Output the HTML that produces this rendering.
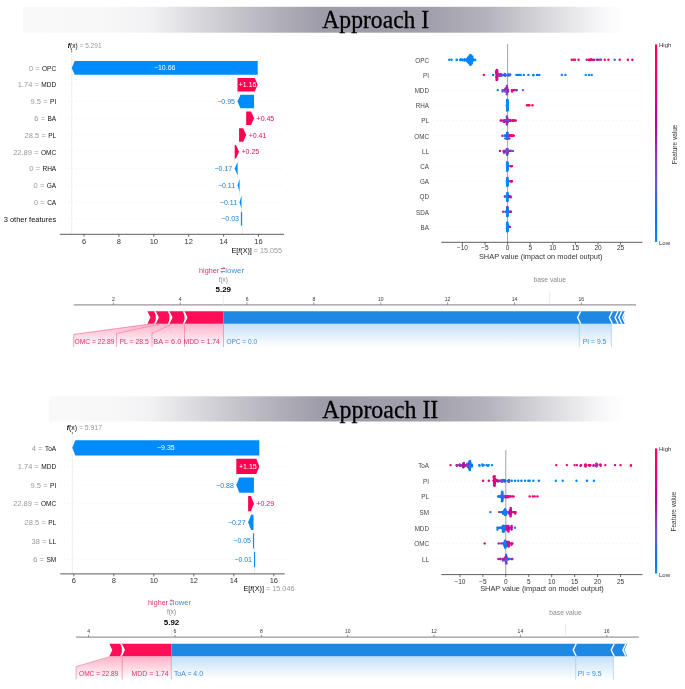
<!DOCTYPE html>
<html><head><meta charset="utf-8"><style>
html,body{margin:0;padding:0;background:#fff;width:685px;height:689px;overflow:hidden}
svg{display:block;filter:blur(0.35px)}
</style></head><body>
<svg width="685" height="689" viewBox="0 0 685 689">
<rect width="685" height="689" fill="#fff"/>
<defs><linearGradient id="g6" x1="23" x2="685" y1="0" y2="0" gradientUnits="userSpaceOnUse"><stop offset="0.0000" stop-color="#f9f9f9"/><stop offset="0.1163" stop-color="#f8f8f9"/><stop offset="0.1918" stop-color="#f2f2f4"/><stop offset="0.3202" stop-color="#c6c5cc"/><stop offset="0.4486" stop-color="#9d9ca8"/><stop offset="0.6148" stop-color="#a09fab"/><stop offset="0.7069" stop-color="#b6b5be"/><stop offset="0.8006" stop-color="#dcdce0"/><stop offset="0.8701" stop-color="#f6f6f8"/><stop offset="0.9094" stop-color="#ffffff"/><stop offset="1.0000" stop-color="#ffffff"/></linearGradient></defs>
<rect x="23" y="6.8" width="662" height="25.900000000000002" fill="url(#g6)"/>
<text x="322.30" y="28.10" font-family="Liberation Serif" font-size="24.5" fill="#000" text-anchor="start" font-weight="normal" textLength="106.9" lengthAdjust="spacingAndGlyphs" stroke="#000" stroke-width="0.3">Approach I</text>
<defs><linearGradient id="g396" x1="49" x2="685" y1="0" y2="0" gradientUnits="userSpaceOnUse"><stop offset="0.0000" stop-color="#f9f9f9"/><stop offset="0.0959" stop-color="#f8f8f9"/><stop offset="0.1588" stop-color="#f2f2f4"/><stop offset="0.2925" stop-color="#c6c5cc"/><stop offset="0.4261" stop-color="#9d9ca8"/><stop offset="0.5991" stop-color="#a09fab"/><stop offset="0.6950" stop-color="#b6b5be"/><stop offset="0.7925" stop-color="#dcdce0"/><stop offset="0.8648" stop-color="#f6f6f8"/><stop offset="0.9057" stop-color="#ffffff"/><stop offset="1.0000" stop-color="#ffffff"/></linearGradient></defs>
<rect x="49" y="396.3" width="636" height="25.19999999999999" fill="url(#g396)"/>
<text x="322.30" y="417.60" font-family="Liberation Serif" font-size="24.5" fill="#000" text-anchor="start" font-weight="normal" textLength="116.0" lengthAdjust="spacingAndGlyphs" stroke="#000" stroke-width="0.3">Approach II</text>
<line x1="60.00" y1="67.90" x2="284.00" y2="67.90" stroke="#e8e8e8" stroke-width="0.6" stroke-dasharray="1,3"/>
<line x1="60.00" y1="84.68" x2="284.00" y2="84.68" stroke="#e8e8e8" stroke-width="0.6" stroke-dasharray="1,3"/>
<line x1="60.00" y1="101.46" x2="284.00" y2="101.46" stroke="#e8e8e8" stroke-width="0.6" stroke-dasharray="1,3"/>
<line x1="60.00" y1="118.24" x2="284.00" y2="118.24" stroke="#e8e8e8" stroke-width="0.6" stroke-dasharray="1,3"/>
<line x1="60.00" y1="135.02" x2="284.00" y2="135.02" stroke="#e8e8e8" stroke-width="0.6" stroke-dasharray="1,3"/>
<line x1="60.00" y1="151.80" x2="284.00" y2="151.80" stroke="#e8e8e8" stroke-width="0.6" stroke-dasharray="1,3"/>
<line x1="60.00" y1="168.58" x2="284.00" y2="168.58" stroke="#e8e8e8" stroke-width="0.6" stroke-dasharray="1,3"/>
<line x1="60.00" y1="185.36" x2="284.00" y2="185.36" stroke="#e8e8e8" stroke-width="0.6" stroke-dasharray="1,3"/>
<line x1="60.00" y1="202.14" x2="284.00" y2="202.14" stroke="#e8e8e8" stroke-width="0.6" stroke-dasharray="1,3"/>
<line x1="60.00" y1="218.92" x2="284.00" y2="218.92" stroke="#e8e8e8" stroke-width="0.6" stroke-dasharray="1,3"/>
<line x1="242.01" y1="212.21" x2="242.01" y2="234.30" stroke="#d8d8d8" stroke-width="0.6" />
<line x1="71.70" y1="49.60" x2="71.70" y2="234.30" stroke="#e4e4e4" stroke-width="0.6" />
<polygon points="240.89,212.12 242.09,212.12 242.09,225.72 240.89,225.72" fill="rgb(0,139,251)" />
<line x1="241.49" y1="212.12" x2="241.49" y2="208.94" stroke="#d0d0d0" stroke-width="0.5" />
<text x="238.99" y="221.44" font-family="Liberation Sans" font-size="7" fill="rgb(25,128,210)" text-anchor="end" font-weight="normal" >−0.03</text>
<polygon points="241.49,195.34 241.49,195.34 239.57,202.14 241.49,208.94 241.49,208.94" fill="rgb(0,139,251)" />
<line x1="239.57" y1="195.34" x2="239.57" y2="192.16" stroke="#d0d0d0" stroke-width="0.5" />
<text x="237.07" y="204.66" font-family="Liberation Sans" font-size="7" fill="rgb(25,128,210)" text-anchor="end" font-weight="normal" >−0.11</text>
<polygon points="239.57,178.56 239.57,178.56 237.65,185.36 239.57,192.16 239.57,192.16" fill="rgb(0,139,251)" />
<line x1="237.65" y1="178.56" x2="237.65" y2="175.38" stroke="#d0d0d0" stroke-width="0.5" />
<text x="235.15" y="187.88" font-family="Liberation Sans" font-size="7" fill="rgb(25,128,210)" text-anchor="end" font-weight="normal" >−0.11</text>
<polygon points="237.65,161.78 237.65,161.78 234.68,168.58 237.65,175.38 237.65,175.38" fill="rgb(0,139,251)" />
<line x1="234.68" y1="161.78" x2="234.68" y2="158.60" stroke="#d0d0d0" stroke-width="0.5" />
<text x="232.18" y="171.10" font-family="Liberation Sans" font-size="7" fill="rgb(25,128,210)" text-anchor="end" font-weight="normal" >−0.17</text>
<polygon points="234.68,145.00 236.04,145.00 239.04,151.80 236.04,158.60 234.68,158.60" fill="rgb(255,0,81)" />
<line x1="239.04" y1="145.00" x2="239.04" y2="141.82" stroke="#d0d0d0" stroke-width="0.5" />
<text x="241.54" y="154.32" font-family="Liberation Sans" font-size="7" fill="rgb(215,20,90)" text-anchor="start" font-weight="normal" >+0.25</text>
<polygon points="239.04,128.22 243.20,128.22 246.20,135.02 243.20,141.82 239.04,141.82" fill="rgb(255,0,81)" />
<line x1="246.20" y1="128.22" x2="246.20" y2="125.04" stroke="#d0d0d0" stroke-width="0.5" />
<text x="248.70" y="137.54" font-family="Liberation Sans" font-size="7" fill="rgb(215,20,90)" text-anchor="start" font-weight="normal" >+0.41</text>
<polygon points="246.20,111.44 251.05,111.44 254.05,118.24 251.05,125.04 246.20,125.04" fill="rgb(255,0,81)" />
<line x1="254.05" y1="111.44" x2="254.05" y2="108.26" stroke="#d0d0d0" stroke-width="0.5" />
<text x="256.55" y="120.76" font-family="Liberation Sans" font-size="7" fill="rgb(215,20,90)" text-anchor="start" font-weight="normal" >+0.45</text>
<polygon points="254.05,94.66 240.47,94.66 237.47,101.46 240.47,108.26 254.05,108.26" fill="rgb(0,139,251)" />
<line x1="237.47" y1="94.66" x2="237.47" y2="91.48" stroke="#d0d0d0" stroke-width="0.5" />
<text x="234.97" y="103.98" font-family="Liberation Sans" font-size="7" fill="rgb(25,128,210)" text-anchor="end" font-weight="normal" >−0.95</text>
<polygon points="237.47,77.88 254.71,77.88 257.71,84.68 254.71,91.48 237.47,91.48" fill="rgb(255,0,81)" />
<line x1="257.71" y1="77.88" x2="257.71" y2="74.70" stroke="#d0d0d0" stroke-width="0.5" />
<text x="247.59" y="87.20" font-family="Liberation Sans" font-size="7" fill="#fff" text-anchor="middle" font-weight="normal" >+1.16</text>
<polygon points="257.71,61.10 74.70,61.10 71.70,67.90 74.70,74.70 257.71,74.70" fill="rgb(0,139,251)" />
<text x="164.71" y="70.42" font-family="Liberation Sans" font-size="7" fill="#fff" text-anchor="middle" font-weight="normal" >−10.66</text>
<text x="42.06" y="70.60" font-family="Liberation Sans" font-size="7.5" fill="#111" text-anchor="start" font-weight="normal" textLength="14.1" lengthAdjust="spacingAndGlyphs" >OPC</text>
<text x="39.66" y="70.60" font-family="Liberation Sans" font-size="7.5" fill="#999" text-anchor="end" font-weight="normal" >=</text>
<text x="33.06" y="70.60" font-family="Liberation Sans" font-size="7.5" fill="#999" text-anchor="end" font-weight="normal" >0</text>
<text x="41.34" y="87.38" font-family="Liberation Sans" font-size="7.5" fill="#111" text-anchor="start" font-weight="normal" textLength="14.9" lengthAdjust="spacingAndGlyphs" >MDD</text>
<text x="38.94" y="87.38" font-family="Liberation Sans" font-size="7.5" fill="#999" text-anchor="end" font-weight="normal" >=</text>
<text x="32.34" y="87.38" font-family="Liberation Sans" font-size="7.5" fill="#999" text-anchor="end" font-weight="normal" >1.74</text>
<text x="50.03" y="104.16" font-family="Liberation Sans" font-size="7.5" fill="#111" text-anchor="start" font-weight="normal" textLength="6.2" lengthAdjust="spacingAndGlyphs" >PI</text>
<text x="47.63" y="104.16" font-family="Liberation Sans" font-size="7.5" fill="#999" text-anchor="end" font-weight="normal" >=</text>
<text x="41.03" y="104.16" font-family="Liberation Sans" font-size="7.5" fill="#999" text-anchor="end" font-weight="normal" >9.5</text>
<text x="47.50" y="120.94" font-family="Liberation Sans" font-size="7.5" fill="#111" text-anchor="start" font-weight="normal" textLength="8.7" lengthAdjust="spacingAndGlyphs" >BA</text>
<text x="45.10" y="120.94" font-family="Liberation Sans" font-size="7.5" fill="#999" text-anchor="end" font-weight="normal" >=</text>
<text x="38.50" y="120.94" font-family="Liberation Sans" font-size="7.5" fill="#999" text-anchor="end" font-weight="normal" >6</text>
<text x="48.22" y="137.72" font-family="Liberation Sans" font-size="7.5" fill="#111" text-anchor="start" font-weight="normal" textLength="8.0" lengthAdjust="spacingAndGlyphs" >PL</text>
<text x="45.82" y="137.72" font-family="Liberation Sans" font-size="7.5" fill="#999" text-anchor="end" font-weight="normal" >=</text>
<text x="39.22" y="137.72" font-family="Liberation Sans" font-size="7.5" fill="#999" text-anchor="end" font-weight="normal" >28.5</text>
<text x="40.98" y="154.50" font-family="Liberation Sans" font-size="7.5" fill="#111" text-anchor="start" font-weight="normal" textLength="15.2" lengthAdjust="spacingAndGlyphs" >OMC</text>
<text x="38.58" y="154.50" font-family="Liberation Sans" font-size="7.5" fill="#999" text-anchor="end" font-weight="normal" >=</text>
<text x="31.98" y="154.50" font-family="Liberation Sans" font-size="7.5" fill="#999" text-anchor="end" font-weight="normal" >22.89</text>
<text x="42.42" y="171.28" font-family="Liberation Sans" font-size="7.5" fill="#111" text-anchor="start" font-weight="normal" textLength="13.8" lengthAdjust="spacingAndGlyphs" >RHA</text>
<text x="40.02" y="171.28" font-family="Liberation Sans" font-size="7.5" fill="#999" text-anchor="end" font-weight="normal" >=</text>
<text x="33.42" y="171.28" font-family="Liberation Sans" font-size="7.5" fill="#999" text-anchor="end" font-weight="normal" >0</text>
<text x="46.77" y="188.06" font-family="Liberation Sans" font-size="7.5" fill="#111" text-anchor="start" font-weight="normal" textLength="9.4" lengthAdjust="spacingAndGlyphs" >GA</text>
<text x="44.37" y="188.06" font-family="Liberation Sans" font-size="7.5" fill="#999" text-anchor="end" font-weight="normal" >=</text>
<text x="37.77" y="188.06" font-family="Liberation Sans" font-size="7.5" fill="#999" text-anchor="end" font-weight="normal" >0</text>
<text x="47.14" y="204.84" font-family="Liberation Sans" font-size="7.5" fill="#111" text-anchor="start" font-weight="normal" textLength="9.1" lengthAdjust="spacingAndGlyphs" >CA</text>
<text x="44.74" y="204.84" font-family="Liberation Sans" font-size="7.5" fill="#999" text-anchor="end" font-weight="normal" >=</text>
<text x="38.14" y="204.84" font-family="Liberation Sans" font-size="7.5" fill="#999" text-anchor="end" font-weight="normal" >0</text>
<text x="3.70" y="221.62" font-family="Liberation Sans" font-size="7.5" fill="#111" text-anchor="start" font-weight="normal" textLength="52.5" lengthAdjust="spacingAndGlyphs" >3 other features</text>
<line x1="59.80" y1="234.30" x2="284.00" y2="234.30" stroke="#333" stroke-width="0.8" />
<line x1="84.00" y1="234.30" x2="84.00" y2="236.80" stroke="#333" stroke-width="0.7" />
<text x="84.00" y="244.00" font-family="Liberation Sans" font-size="7.5" fill="#333" text-anchor="middle" font-weight="normal" >6</text>
<line x1="118.90" y1="234.30" x2="118.90" y2="236.80" stroke="#333" stroke-width="0.7" />
<text x="118.90" y="244.00" font-family="Liberation Sans" font-size="7.5" fill="#333" text-anchor="middle" font-weight="normal" >8</text>
<line x1="153.80" y1="234.30" x2="153.80" y2="236.80" stroke="#333" stroke-width="0.7" />
<text x="153.80" y="244.00" font-family="Liberation Sans" font-size="7.5" fill="#333" text-anchor="middle" font-weight="normal" >10</text>
<line x1="188.70" y1="234.30" x2="188.70" y2="236.80" stroke="#333" stroke-width="0.7" />
<text x="188.70" y="244.00" font-family="Liberation Sans" font-size="7.5" fill="#333" text-anchor="middle" font-weight="normal" >12</text>
<line x1="223.60" y1="234.30" x2="223.60" y2="236.80" stroke="#333" stroke-width="0.7" />
<text x="223.60" y="244.00" font-family="Liberation Sans" font-size="7.5" fill="#333" text-anchor="middle" font-weight="normal" >14</text>
<line x1="258.50" y1="234.30" x2="258.50" y2="236.80" stroke="#333" stroke-width="0.7" />
<text x="258.50" y="244.00" font-family="Liberation Sans" font-size="7.5" fill="#333" text-anchor="middle" font-weight="normal" >16</text>
<text x="67.80" y="48.12" font-family="Liberation Sans" font-size="7" textLength="33.8" lengthAdjust="spacingAndGlyphs"><tspan font-style="italic" font-weight="bold" fill="#000">f</tspan><tspan fill="#000">(x)</tspan><tspan fill="#999"> = 5.291</tspan></text>
<line x1="71.70" y1="50.40" x2="71.70" y2="52.40" stroke="#333" stroke-width="0.6" />
<text x="231.50" y="252.52" font-family="Liberation Sans" font-size="7" textLength="50.5" lengthAdjust="spacingAndGlyphs"><tspan fill="#000">E[<tspan font-style="italic">f</tspan>(X)]</tspan><tspan fill="#999"> = 15.055</tspan></text>
<line x1="60.00" y1="447.80" x2="285.00" y2="447.80" stroke="#e8e8e8" stroke-width="0.6" stroke-dasharray="1,3"/>
<line x1="60.00" y1="466.42" x2="285.00" y2="466.42" stroke="#e8e8e8" stroke-width="0.6" stroke-dasharray="1,3"/>
<line x1="60.00" y1="485.04" x2="285.00" y2="485.04" stroke="#e8e8e8" stroke-width="0.6" stroke-dasharray="1,3"/>
<line x1="60.00" y1="503.66" x2="285.00" y2="503.66" stroke="#e8e8e8" stroke-width="0.6" stroke-dasharray="1,3"/>
<line x1="60.00" y1="522.28" x2="285.00" y2="522.28" stroke="#e8e8e8" stroke-width="0.6" stroke-dasharray="1,3"/>
<line x1="60.00" y1="540.90" x2="285.00" y2="540.90" stroke="#e8e8e8" stroke-width="0.6" stroke-dasharray="1,3"/>
<line x1="60.00" y1="559.52" x2="285.00" y2="559.52" stroke="#e8e8e8" stroke-width="0.6" stroke-dasharray="1,3"/>
<line x1="254.72" y1="552.07" x2="254.72" y2="573.90" stroke="#d8d8d8" stroke-width="0.6" />
<line x1="72.32" y1="431.20" x2="72.32" y2="573.90" stroke="#e4e4e4" stroke-width="0.6" />
<polygon points="253.92,551.92 255.12,551.92 255.12,567.12 253.92,567.12" fill="rgb(0,139,251)" />
<line x1="254.52" y1="551.92" x2="254.52" y2="548.50" stroke="#d0d0d0" stroke-width="0.5" />
<text x="252.02" y="562.04" font-family="Liberation Sans" font-size="7" fill="rgb(25,128,210)" text-anchor="end" font-weight="normal" >−0.01</text>
<polygon points="252.92,533.30 254.12,533.30 254.12,548.50 252.92,548.50" fill="rgb(0,139,251)" />
<line x1="253.52" y1="533.30" x2="253.52" y2="529.88" stroke="#d0d0d0" stroke-width="0.5" />
<text x="251.02" y="543.42" font-family="Liberation Sans" font-size="7" fill="rgb(25,128,210)" text-anchor="end" font-weight="normal" >−0.05</text>
<polygon points="253.52,514.68 251.12,514.68 248.12,522.28 251.12,529.88 253.52,529.88" fill="rgb(0,139,251)" />
<line x1="248.12" y1="514.68" x2="248.12" y2="511.26" stroke="#d0d0d0" stroke-width="0.5" />
<text x="245.62" y="524.80" font-family="Liberation Sans" font-size="7" fill="rgb(25,128,210)" text-anchor="end" font-weight="normal" >−0.27</text>
<polygon points="248.12,496.06 250.92,496.06 253.92,503.66 250.92,511.26 248.12,511.26" fill="rgb(255,0,81)" />
<line x1="253.92" y1="496.06" x2="253.92" y2="492.64" stroke="#d0d0d0" stroke-width="0.5" />
<text x="256.42" y="506.18" font-family="Liberation Sans" font-size="7" fill="rgb(215,20,90)" text-anchor="start" font-weight="normal" >+0.29</text>
<polygon points="253.92,477.44 239.32,477.44 236.32,485.04 239.32,492.64 253.92,492.64" fill="rgb(0,139,251)" />
<line x1="236.32" y1="477.44" x2="236.32" y2="474.02" stroke="#d0d0d0" stroke-width="0.5" />
<text x="233.82" y="487.56" font-family="Liberation Sans" font-size="7" fill="rgb(25,128,210)" text-anchor="end" font-weight="normal" >−0.88</text>
<polygon points="236.32,458.82 256.32,458.82 259.32,466.42 256.32,474.02 236.32,474.02" fill="rgb(255,0,81)" />
<line x1="259.32" y1="458.82" x2="259.32" y2="455.40" stroke="#d0d0d0" stroke-width="0.5" />
<text x="247.82" y="468.94" font-family="Liberation Sans" font-size="7" fill="#fff" text-anchor="middle" font-weight="normal" >+1.15</text>
<polygon points="259.32,440.20 75.32,440.20 72.32,447.80 75.32,455.40 259.32,455.40" fill="rgb(0,139,251)" />
<text x="165.82" y="450.32" font-family="Liberation Sans" font-size="7" fill="#fff" text-anchor="middle" font-weight="normal" >−9.35</text>
<text x="44.96" y="450.50" font-family="Liberation Sans" font-size="7.5" fill="#111" text-anchor="start" font-weight="normal" textLength="11.2" lengthAdjust="spacingAndGlyphs" >ToA</text>
<text x="42.56" y="450.50" font-family="Liberation Sans" font-size="7.5" fill="#999" text-anchor="end" font-weight="normal" >=</text>
<text x="35.96" y="450.50" font-family="Liberation Sans" font-size="7.5" fill="#999" text-anchor="end" font-weight="normal" >4</text>
<text x="41.34" y="469.12" font-family="Liberation Sans" font-size="7.5" fill="#111" text-anchor="start" font-weight="normal" textLength="14.9" lengthAdjust="spacingAndGlyphs" >MDD</text>
<text x="38.94" y="469.12" font-family="Liberation Sans" font-size="7.5" fill="#999" text-anchor="end" font-weight="normal" >=</text>
<text x="32.34" y="469.12" font-family="Liberation Sans" font-size="7.5" fill="#999" text-anchor="end" font-weight="normal" >1.74</text>
<text x="50.03" y="487.74" font-family="Liberation Sans" font-size="7.5" fill="#111" text-anchor="start" font-weight="normal" textLength="6.2" lengthAdjust="spacingAndGlyphs" >PI</text>
<text x="47.63" y="487.74" font-family="Liberation Sans" font-size="7.5" fill="#999" text-anchor="end" font-weight="normal" >=</text>
<text x="41.03" y="487.74" font-family="Liberation Sans" font-size="7.5" fill="#999" text-anchor="end" font-weight="normal" >9.5</text>
<text x="40.98" y="506.36" font-family="Liberation Sans" font-size="7.5" fill="#111" text-anchor="start" font-weight="normal" textLength="15.2" lengthAdjust="spacingAndGlyphs" >OMC</text>
<text x="38.58" y="506.36" font-family="Liberation Sans" font-size="7.5" fill="#999" text-anchor="end" font-weight="normal" >=</text>
<text x="31.98" y="506.36" font-family="Liberation Sans" font-size="7.5" fill="#999" text-anchor="end" font-weight="normal" >22.89</text>
<text x="48.22" y="524.98" font-family="Liberation Sans" font-size="7.5" fill="#111" text-anchor="start" font-weight="normal" textLength="8.0" lengthAdjust="spacingAndGlyphs" >PL</text>
<text x="45.82" y="524.98" font-family="Liberation Sans" font-size="7.5" fill="#999" text-anchor="end" font-weight="normal" >=</text>
<text x="39.22" y="524.98" font-family="Liberation Sans" font-size="7.5" fill="#999" text-anchor="end" font-weight="normal" >28.5</text>
<text x="48.94" y="543.60" font-family="Liberation Sans" font-size="7.5" fill="#111" text-anchor="start" font-weight="normal" textLength="7.3" lengthAdjust="spacingAndGlyphs" >LL</text>
<text x="46.54" y="543.60" font-family="Liberation Sans" font-size="7.5" fill="#999" text-anchor="end" font-weight="normal" >=</text>
<text x="39.94" y="543.60" font-family="Liberation Sans" font-size="7.5" fill="#999" text-anchor="end" font-weight="normal" >38</text>
<text x="46.41" y="562.22" font-family="Liberation Sans" font-size="7.5" fill="#111" text-anchor="start" font-weight="normal" textLength="9.8" lengthAdjust="spacingAndGlyphs" >SM</text>
<text x="44.01" y="562.22" font-family="Liberation Sans" font-size="7.5" fill="#999" text-anchor="end" font-weight="normal" >=</text>
<text x="37.41" y="562.22" font-family="Liberation Sans" font-size="7.5" fill="#999" text-anchor="end" font-weight="normal" >6</text>
<line x1="60.20" y1="573.90" x2="284.70" y2="573.90" stroke="#333" stroke-width="0.8" />
<line x1="73.80" y1="573.90" x2="73.80" y2="576.40" stroke="#333" stroke-width="0.7" />
<text x="73.80" y="582.70" font-family="Liberation Sans" font-size="7.5" fill="#333" text-anchor="middle" font-weight="normal" >6</text>
<line x1="113.80" y1="573.90" x2="113.80" y2="576.40" stroke="#333" stroke-width="0.7" />
<text x="113.80" y="582.70" font-family="Liberation Sans" font-size="7.5" fill="#333" text-anchor="middle" font-weight="normal" >8</text>
<line x1="153.80" y1="573.90" x2="153.80" y2="576.40" stroke="#333" stroke-width="0.7" />
<text x="153.80" y="582.70" font-family="Liberation Sans" font-size="7.5" fill="#333" text-anchor="middle" font-weight="normal" >10</text>
<line x1="193.80" y1="573.90" x2="193.80" y2="576.40" stroke="#333" stroke-width="0.7" />
<text x="193.80" y="582.70" font-family="Liberation Sans" font-size="7.5" fill="#333" text-anchor="middle" font-weight="normal" >12</text>
<line x1="233.80" y1="573.90" x2="233.80" y2="576.40" stroke="#333" stroke-width="0.7" />
<text x="233.80" y="582.70" font-family="Liberation Sans" font-size="7.5" fill="#333" text-anchor="middle" font-weight="normal" >14</text>
<line x1="273.80" y1="573.90" x2="273.80" y2="576.40" stroke="#333" stroke-width="0.7" />
<text x="273.80" y="582.70" font-family="Liberation Sans" font-size="7.5" fill="#333" text-anchor="middle" font-weight="normal" >16</text>
<text x="66.70" y="429.72" font-family="Liberation Sans" font-size="7" textLength="35.3" lengthAdjust="spacingAndGlyphs"><tspan font-style="italic" font-weight="bold" fill="#000">f</tspan><tspan fill="#000">(x)</tspan><tspan fill="#999"> = 5.917</tspan></text>
<line x1="72.32" y1="432.00" x2="72.32" y2="434.00" stroke="#333" stroke-width="0.6" />
<text x="243.40" y="590.52" font-family="Liberation Sans" font-size="7" textLength="51.1" lengthAdjust="spacingAndGlyphs"><tspan fill="#000">E[<tspan font-style="italic">f</tspan>(X)]</tspan><tspan fill="#999"> = 15.046</tspan></text>
<line x1="432.00" y1="59.70" x2="640.00" y2="59.70" stroke="#e6e6e6" stroke-width="0.6" stroke-dasharray="1,3"/>
<line x1="432.00" y1="74.90" x2="640.00" y2="74.90" stroke="#e6e6e6" stroke-width="0.6" stroke-dasharray="1,3"/>
<line x1="432.00" y1="90.10" x2="640.00" y2="90.10" stroke="#e6e6e6" stroke-width="0.6" stroke-dasharray="1,3"/>
<line x1="432.00" y1="105.30" x2="640.00" y2="105.30" stroke="#e6e6e6" stroke-width="0.6" stroke-dasharray="1,3"/>
<line x1="432.00" y1="120.50" x2="640.00" y2="120.50" stroke="#e6e6e6" stroke-width="0.6" stroke-dasharray="1,3"/>
<line x1="432.00" y1="135.70" x2="640.00" y2="135.70" stroke="#e6e6e6" stroke-width="0.6" stroke-dasharray="1,3"/>
<line x1="432.00" y1="150.90" x2="640.00" y2="150.90" stroke="#e6e6e6" stroke-width="0.6" stroke-dasharray="1,3"/>
<line x1="432.00" y1="166.10" x2="640.00" y2="166.10" stroke="#e6e6e6" stroke-width="0.6" stroke-dasharray="1,3"/>
<line x1="432.00" y1="181.30" x2="640.00" y2="181.30" stroke="#e6e6e6" stroke-width="0.6" stroke-dasharray="1,3"/>
<line x1="432.00" y1="196.50" x2="640.00" y2="196.50" stroke="#e6e6e6" stroke-width="0.6" stroke-dasharray="1,3"/>
<line x1="432.00" y1="211.70" x2="640.00" y2="211.70" stroke="#e6e6e6" stroke-width="0.6" stroke-dasharray="1,3"/>
<line x1="432.00" y1="226.90" x2="640.00" y2="226.90" stroke="#e6e6e6" stroke-width="0.6" stroke-dasharray="1,3"/>
<line x1="507.60" y1="44.20" x2="507.60" y2="242.30" stroke="#999" stroke-width="0.9" />
<text x="415.35" y="62.62" font-family="Liberation Sans" font-size="7.0" fill="#444" text-anchor="start" font-weight="normal" textLength="13.7" lengthAdjust="spacingAndGlyphs" >OPC</text>
<circle cx="470.05" cy="60.96" r="1.2" fill="rgb(0,132,248)"/>
<circle cx="470.37" cy="64.75" r="1.2" fill="rgb(0,133,249)"/>
<circle cx="589.12" cy="60.12" r="1.2" fill="rgb(207,0,147)"/>
<circle cx="467.78" cy="58.44" r="1.2" fill="rgb(0,130,248)"/>
<circle cx="471.07" cy="63.91" r="1.2" fill="rgb(0,133,249)"/>
<circle cx="464.55" cy="59.28" r="1.2" fill="rgb(0,134,250)"/>
<circle cx="449.29" cy="59.70" r="1.2" fill="rgb(0,137,250)"/>
<circle cx="468.47" cy="60.54" r="1.2" fill="rgb(0,132,248)"/>
<circle cx="469.57" cy="56.33" r="1.2" fill="rgb(0,132,248)"/>
<circle cx="586.70" cy="59.70" r="1.2" fill="rgb(160,31,171)"/>
<circle cx="574.95" cy="59.70" r="1.2" fill="rgb(252,0,97)"/>
<circle cx="473.24" cy="59.28" r="1.2" fill="rgb(0,127,247)"/>
<circle cx="588.72" cy="59.70" r="1.2" fill="rgb(236,0,120)"/>
<circle cx="474.91" cy="60.12" r="1.2" fill="rgb(0,139,251)"/>
<circle cx="590.44" cy="60.12" r="1.2" fill="rgb(248,0,103)"/>
<circle cx="467.38" cy="60.96" r="1.2" fill="rgb(0,130,248)"/>
<circle cx="592.24" cy="59.70" r="1.2" fill="rgb(223,0,134)"/>
<circle cx="470.35" cy="60.96" r="1.2" fill="rgb(0,133,249)"/>
<circle cx="460.74" cy="59.28" r="1.2" fill="rgb(0,132,248)"/>
<circle cx="470.68" cy="56.75" r="1.2" fill="rgb(0,133,249)"/>
<circle cx="470.25" cy="62.65" r="1.2" fill="rgb(0,133,249)"/>
<circle cx="471.90" cy="63.07" r="1.2" fill="rgb(0,139,251)"/>
<circle cx="571.78" cy="59.70" r="1.2" fill="rgb(255,0,88)"/>
<circle cx="596.64" cy="59.70" r="1.2" fill="rgb(91,93,221)"/>
<circle cx="472.14" cy="60.12" r="1.2" fill="rgb(0,133,249)"/>
<circle cx="466.85" cy="60.12" r="1.2" fill="rgb(0,139,251)"/>
<circle cx="462.33" cy="60.12" r="1.2" fill="rgb(0,129,247)"/>
<circle cx="469.62" cy="60.12" r="1.2" fill="rgb(0,136,250)"/>
<circle cx="456.56" cy="60.12" r="1.2" fill="rgb(0,136,250)"/>
<circle cx="456.87" cy="59.70" r="1.2" fill="rgb(0,137,250)"/>
<circle cx="468.88" cy="56.75" r="1.2" fill="rgb(0,136,250)"/>
<circle cx="594.04" cy="59.70" r="1.2" fill="rgb(205,0,149)"/>
<circle cx="608.40" cy="59.70" r="1.2" fill="rgb(252,0,97)"/>
<circle cx="466.67" cy="59.70" r="1.2" fill="rgb(0,136,250)"/>
<circle cx="468.09" cy="58.02" r="1.2" fill="rgb(0,132,248)"/>
<circle cx="470.92" cy="61.38" r="1.2" fill="rgb(0,132,248)"/>
<circle cx="471.85" cy="58.44" r="1.2" fill="rgb(0,139,251)"/>
<circle cx="604.78" cy="59.70" r="1.2" fill="rgb(246,0,108)"/>
<circle cx="600.85" cy="59.70" r="1.2" fill="rgb(133,66,197)"/>
<circle cx="451.55" cy="59.70" r="1.2" fill="rgb(0,132,248)"/>
<circle cx="469.93" cy="62.23" r="1.2" fill="rgb(0,130,248)"/>
<circle cx="460.70" cy="59.70" r="1.2" fill="rgb(0,133,249)"/>
<circle cx="469.03" cy="59.70" r="1.2" fill="rgb(0,132,248)"/>
<circle cx="470.53" cy="64.33" r="1.2" fill="rgb(0,139,251)"/>
<circle cx="464.80" cy="59.70" r="1.2" fill="rgb(0,139,251)"/>
<circle cx="470.64" cy="58.86" r="1.2" fill="rgb(0,134,250)"/>
<circle cx="468.58" cy="57.60" r="1.2" fill="rgb(0,134,250)"/>
<circle cx="471.64" cy="59.28" r="1.2" fill="rgb(0,132,248)"/>
<circle cx="470.40" cy="55.07" r="1.2" fill="rgb(0,134,250)"/>
<circle cx="472.86" cy="58.86" r="1.2" fill="rgb(0,137,250)"/>
<circle cx="471.37" cy="57.60" r="1.2" fill="rgb(0,133,249)"/>
<circle cx="590.73" cy="59.70" r="1.2" fill="rgb(217,0,140)"/>
<circle cx="472.08" cy="57.17" r="1.2" fill="rgb(0,137,250)"/>
<circle cx="472.38" cy="60.96" r="1.2" fill="rgb(0,133,249)"/>
<circle cx="463.20" cy="60.12" r="1.2" fill="rgb(0,137,250)"/>
<circle cx="593.67" cy="60.12" r="1.2" fill="rgb(231,0,126)"/>
<circle cx="590.70" cy="59.28" r="1.2" fill="rgb(240,0,116)"/>
<circle cx="460.35" cy="60.12" r="1.2" fill="rgb(0,133,249)"/>
<circle cx="471.19" cy="59.70" r="1.2" fill="rgb(0,139,251)"/>
<circle cx="468.81" cy="61.80" r="1.2" fill="rgb(0,130,248)"/>
<circle cx="472.14" cy="56.33" r="1.2" fill="rgb(0,133,249)"/>
<circle cx="464.78" cy="60.54" r="1.2" fill="rgb(0,132,248)"/>
<circle cx="573.59" cy="59.70" r="1.2" fill="rgb(255,0,90)"/>
<circle cx="469.14" cy="60.54" r="1.2" fill="rgb(0,139,251)"/>
<circle cx="470.86" cy="62.65" r="1.2" fill="rgb(0,134,250)"/>
<circle cx="466.74" cy="59.70" r="1.2" fill="rgb(0,136,250)"/>
<circle cx="469.15" cy="57.17" r="1.2" fill="rgb(0,137,250)"/>
<circle cx="627.83" cy="59.70" r="1.2" fill="rgb(255,0,81)"/>
<circle cx="470.42" cy="55.49" r="1.2" fill="rgb(0,136,250)"/>
<circle cx="467.54" cy="61.38" r="1.2" fill="rgb(0,132,248)"/>
<circle cx="472.23" cy="59.70" r="1.2" fill="rgb(0,133,249)"/>
<circle cx="471.51" cy="63.49" r="1.2" fill="rgb(0,134,250)"/>
<circle cx="470.05" cy="63.49" r="1.2" fill="rgb(0,139,251)"/>
<circle cx="462.30" cy="59.70" r="1.2" fill="rgb(0,139,251)"/>
<circle cx="471.60" cy="60.54" r="1.2" fill="rgb(0,134,250)"/>
<circle cx="472.18" cy="60.12" r="1.2" fill="rgb(0,136,250)"/>
<circle cx="470.73" cy="61.80" r="1.2" fill="rgb(0,134,250)"/>
<circle cx="470.74" cy="55.91" r="1.2" fill="rgb(0,132,248)"/>
<circle cx="468.81" cy="63.07" r="1.2" fill="rgb(0,136,250)"/>
<circle cx="469.31" cy="58.02" r="1.2" fill="rgb(0,134,250)"/>
<circle cx="600.11" cy="59.70" r="1.2" fill="rgb(133,66,197)"/>
<circle cx="614.72" cy="59.70" r="1.2" fill="rgb(57,104,231)"/>
<circle cx="472.94" cy="60.54" r="1.2" fill="rgb(0,132,248)"/>
<circle cx="468.33" cy="61.80" r="1.2" fill="rgb(0,136,250)"/>
<circle cx="470.76" cy="62.23" r="1.2" fill="rgb(0,134,250)"/>
<circle cx="470.83" cy="58.02" r="1.2" fill="rgb(0,136,250)"/>
<circle cx="632.35" cy="59.70" r="1.2" fill="rgb(212,0,144)"/>
<circle cx="468.61" cy="58.86" r="1.2" fill="rgb(0,133,249)"/>
<circle cx="475.07" cy="59.70" r="1.2" fill="rgb(0,132,248)"/>
<circle cx="619.70" cy="59.70" r="1.2" fill="rgb(255,0,90)"/>
<circle cx="467.67" cy="58.86" r="1.2" fill="rgb(0,134,250)"/>
<circle cx="467.55" cy="59.28" r="1.2" fill="rgb(0,134,250)"/>
<circle cx="598.00" cy="59.70" r="1.2" fill="rgb(182,4,162)"/>
<circle cx="469.69" cy="61.38" r="1.2" fill="rgb(0,137,250)"/>
<circle cx="469.58" cy="58.44" r="1.2" fill="rgb(0,133,249)"/>
<circle cx="578.56" cy="59.70" r="1.2" fill="rgb(252,0,97)"/>
<circle cx="470.10" cy="59.28" r="1.2" fill="rgb(0,133,249)"/>
<text x="423.05" y="77.82" font-family="Liberation Sans" font-size="7.0" fill="#444" text-anchor="start" font-weight="normal" textLength="6.0" lengthAdjust="spacingAndGlyphs" >PI</text>
<circle cx="497.35" cy="75.36" r="1.2" fill="rgb(209,0,145)"/>
<circle cx="507.57" cy="75.36" r="1.2" fill="rgb(0,132,248)"/>
<circle cx="483.78" cy="74.90" r="1.2" fill="rgb(235,0,122)"/>
<circle cx="496.85" cy="76.72" r="1.2" fill="rgb(227,0,130)"/>
<circle cx="519.35" cy="74.90" r="1.2" fill="rgb(38,108,234)"/>
<circle cx="497.05" cy="75.81" r="1.2" fill="rgb(209,0,145)"/>
<circle cx="509.03" cy="74.90" r="1.2" fill="rgb(0,118,241)"/>
<circle cx="497.14" cy="78.55" r="1.2" fill="rgb(231,0,126)"/>
<circle cx="497.50" cy="73.99" r="1.2" fill="rgb(202,0,151)"/>
<circle cx="496.59" cy="71.25" r="1.2" fill="rgb(194,0,155)"/>
<circle cx="516.41" cy="74.90" r="1.2" fill="rgb(0,136,250)"/>
<circle cx="533.36" cy="75.36" r="1.2" fill="rgb(0,134,250)"/>
<circle cx="497.35" cy="74.44" r="1.2" fill="rgb(227,0,130)"/>
<circle cx="591.67" cy="74.90" r="1.2" fill="rgb(0,134,250)"/>
<circle cx="496.74" cy="76.27" r="1.2" fill="rgb(219,0,138)"/>
<circle cx="500.57" cy="73.99" r="1.2" fill="rgb(115,80,210)"/>
<circle cx="496.95" cy="74.90" r="1.2" fill="rgb(229,0,128)"/>
<circle cx="496.21" cy="72.16" r="1.2" fill="rgb(212,0,144)"/>
<circle cx="500.42" cy="75.36" r="1.2" fill="rgb(108,84,214)"/>
<circle cx="496.82" cy="69.88" r="1.2" fill="rgb(227,0,130)"/>
<circle cx="539.24" cy="74.90" r="1.2" fill="rgb(0,118,241)"/>
<circle cx="505.13" cy="75.81" r="1.2" fill="rgb(82,97,225)"/>
<circle cx="561.84" cy="74.90" r="1.2" fill="rgb(0,132,248)"/>
<circle cx="496.36" cy="73.08" r="1.2" fill="rgb(207,0,147)"/>
<circle cx="503.50" cy="74.90" r="1.2" fill="rgb(0,126,246)"/>
<circle cx="504.41" cy="75.36" r="1.2" fill="rgb(127,71,201)"/>
<circle cx="585.80" cy="74.90" r="1.2" fill="rgb(0,139,251)"/>
<circle cx="510.07" cy="74.90" r="1.2" fill="rgb(24,109,235)"/>
<circle cx="500.72" cy="75.36" r="1.2" fill="rgb(240,0,116)"/>
<circle cx="504.88" cy="74.44" r="1.2" fill="rgb(70,100,228)"/>
<circle cx="533.32" cy="74.90" r="1.2" fill="rgb(0,139,251)"/>
<circle cx="497.10" cy="77.64" r="1.2" fill="rgb(221,0,136)"/>
<circle cx="500.07" cy="74.44" r="1.2" fill="rgb(179,10,163)"/>
<circle cx="501.41" cy="75.81" r="1.2" fill="rgb(118,78,208)"/>
<circle cx="496.66" cy="78.09" r="1.2" fill="rgb(219,0,138)"/>
<circle cx="508.72" cy="75.36" r="1.2" fill="rgb(48,106,233)"/>
<circle cx="565.46" cy="74.90" r="1.2" fill="rgb(0,132,248)"/>
<circle cx="496.63" cy="77.18" r="1.2" fill="rgb(221,0,136)"/>
<circle cx="497.10" cy="70.34" r="1.2" fill="rgb(221,0,136)"/>
<circle cx="518.00" cy="74.90" r="1.2" fill="rgb(0,127,247)"/>
<circle cx="496.60" cy="79.92" r="1.2" fill="rgb(207,0,147)"/>
<circle cx="497.49" cy="76.27" r="1.2" fill="rgb(223,0,134)"/>
<circle cx="505.24" cy="74.90" r="1.2" fill="rgb(118,78,208)"/>
<circle cx="528.39" cy="74.90" r="1.2" fill="rgb(0,127,247)"/>
<circle cx="496.63" cy="70.80" r="1.2" fill="rgb(214,0,142)"/>
<circle cx="508.20" cy="74.44" r="1.2" fill="rgb(0,111,237)"/>
<circle cx="493.14" cy="74.90" r="1.2" fill="rgb(0,115,239)"/>
<circle cx="501.20" cy="74.44" r="1.2" fill="rgb(0,123,244)"/>
<circle cx="496.93" cy="75.36" r="1.2" fill="rgb(227,0,130)"/>
<circle cx="497.70" cy="75.81" r="1.2" fill="rgb(214,0,142)"/>
<circle cx="497.20" cy="72.62" r="1.2" fill="rgb(223,0,134)"/>
<circle cx="588.96" cy="74.90" r="1.2" fill="rgb(0,139,251)"/>
<circle cx="497.10" cy="79.46" r="1.2" fill="rgb(217,0,140)"/>
<circle cx="520.71" cy="74.90" r="1.2" fill="rgb(0,134,250)"/>
<circle cx="497.02" cy="79.00" r="1.2" fill="rgb(236,0,120)"/>
<circle cx="536.98" cy="74.90" r="1.2" fill="rgb(0,124,245)"/>
<circle cx="504.86" cy="73.99" r="1.2" fill="rgb(70,100,228)"/>
<circle cx="497.14" cy="73.53" r="1.2" fill="rgb(235,0,122)"/>
<circle cx="505.77" cy="75.36" r="1.2" fill="rgb(57,104,231)"/>
<circle cx="502.51" cy="75.36" r="1.2" fill="rgb(87,95,223)"/>
<circle cx="496.80" cy="74.44" r="1.2" fill="rgb(221,0,136)"/>
<circle cx="523.87" cy="74.90" r="1.2" fill="rgb(0,129,247)"/>
<circle cx="496.89" cy="73.99" r="1.2" fill="rgb(182,4,162)"/>
<circle cx="497.46" cy="74.90" r="1.2" fill="rgb(225,0,132)"/>
<circle cx="499.50" cy="75.81" r="1.2" fill="rgb(115,80,210)"/>
<circle cx="509.63" cy="75.36" r="1.2" fill="rgb(0,126,246)"/>
<circle cx="504.27" cy="74.90" r="1.2" fill="rgb(0,118,241)"/>
<circle cx="497.20" cy="71.71" r="1.2" fill="rgb(219,0,138)"/>
<circle cx="510.11" cy="74.44" r="1.2" fill="rgb(121,76,206)"/>
<circle cx="507.52" cy="74.90" r="1.2" fill="rgb(64,102,230)"/>
<circle cx="497.38" cy="73.53" r="1.2" fill="rgb(217,0,140)"/>
<circle cx="502.19" cy="74.90" r="1.2" fill="rgb(111,82,212)"/>
<circle cx="501.50" cy="74.90" r="1.2" fill="rgb(121,76,206)"/>
<circle cx="500.12" cy="74.90" r="1.2" fill="rgb(143,54,187)"/>
<text x="414.65" y="93.02" font-family="Liberation Sans" font-size="7.0" fill="#444" text-anchor="start" font-weight="normal" textLength="14.3" lengthAdjust="spacingAndGlyphs" >MDD</text>
<circle cx="503.79" cy="90.10" r="1.2" fill="rgb(148,48,182)"/>
<circle cx="514.11" cy="90.10" r="1.2" fill="rgb(250,0,101)"/>
<circle cx="506.85" cy="92.84" r="1.2" fill="rgb(100,89,218)"/>
<circle cx="522.97" cy="90.10" r="1.2" fill="rgb(111,82,212)"/>
<circle cx="507.44" cy="91.47" r="1.2" fill="rgb(167,26,169)"/>
<circle cx="516.47" cy="90.10" r="1.2" fill="rgb(233,0,124)"/>
<circle cx="506.33" cy="88.73" r="1.2" fill="rgb(96,91,220)"/>
<circle cx="506.94" cy="91.47" r="1.2" fill="rgb(202,0,151)"/>
<circle cx="505.74" cy="90.10" r="1.2" fill="rgb(185,0,160)"/>
<circle cx="512.10" cy="90.10" r="1.2" fill="rgb(235,0,122)"/>
<circle cx="512.86" cy="90.10" r="1.2" fill="rgb(247,0,105)"/>
<circle cx="508.05" cy="91.47" r="1.2" fill="rgb(108,84,214)"/>
<circle cx="506.79" cy="88.73" r="1.2" fill="rgb(91,93,221)"/>
<circle cx="506.93" cy="86.00" r="1.2" fill="rgb(138,60,192)"/>
<circle cx="504.37" cy="90.10" r="1.2" fill="rgb(104,87,216)"/>
<circle cx="507.31" cy="90.10" r="1.2" fill="rgb(154,37,174)"/>
<circle cx="507.72" cy="90.10" r="1.2" fill="rgb(87,95,223)"/>
<circle cx="512.68" cy="90.10" r="1.2" fill="rgb(246,0,108)"/>
<circle cx="515.24" cy="90.10" r="1.2" fill="rgb(221,0,136)"/>
<circle cx="502.60" cy="91.47" r="1.2" fill="rgb(127,71,201)"/>
<circle cx="505.24" cy="88.73" r="1.2" fill="rgb(136,63,194)"/>
<circle cx="506.84" cy="90.10" r="1.2" fill="rgb(130,68,199)"/>
<circle cx="506.35" cy="91.47" r="1.2" fill="rgb(127,71,201)"/>
<circle cx="516.11" cy="90.10" r="1.2" fill="rgb(231,0,126)"/>
<circle cx="507.52" cy="91.47" r="1.2" fill="rgb(157,34,172)"/>
<circle cx="506.93" cy="94.20" r="1.2" fill="rgb(118,78,208)"/>
<circle cx="512.13" cy="91.47" r="1.2" fill="rgb(247,0,105)"/>
<circle cx="497.79" cy="90.10" r="1.2" fill="rgb(0,132,248)"/>
<circle cx="505.35" cy="90.10" r="1.2" fill="rgb(133,66,197)"/>
<circle cx="502.56" cy="90.10" r="1.2" fill="rgb(130,68,199)"/>
<circle cx="508.07" cy="90.10" r="1.2" fill="rgb(157,34,172)"/>
<circle cx="516.64" cy="90.10" r="1.2" fill="rgb(0,118,241)"/>
<circle cx="506.86" cy="87.36" r="1.2" fill="rgb(163,29,170)"/>
<circle cx="505.98" cy="90.10" r="1.2" fill="rgb(179,10,163)"/>
<circle cx="506.26" cy="90.10" r="1.2" fill="rgb(115,80,210)"/>
<circle cx="503.12" cy="90.10" r="1.2" fill="rgb(87,95,223)"/>
<circle cx="505.23" cy="91.47" r="1.2" fill="rgb(121,76,206)"/>
<circle cx="511.86" cy="90.10" r="1.2" fill="rgb(241,0,114)"/>
<circle cx="506.68" cy="90.10" r="1.2" fill="rgb(163,29,170)"/>
<circle cx="506.52" cy="91.47" r="1.2" fill="rgb(127,71,201)"/>
<circle cx="507.30" cy="88.73" r="1.2" fill="rgb(146,51,185)"/>
<circle cx="506.70" cy="88.73" r="1.2" fill="rgb(150,45,179)"/>
<text x="415.70" y="108.22" font-family="Liberation Sans" font-size="7.0" fill="#444" text-anchor="start" font-weight="normal" textLength="13.3" lengthAdjust="spacingAndGlyphs" >RHA</text>
<circle cx="507.24" cy="103.11" r="1.2" fill="rgb(0,134,250)"/>
<circle cx="529.40" cy="105.30" r="1.2" fill="rgb(255,0,90)"/>
<circle cx="507.19" cy="101.80" r="1.2" fill="rgb(0,136,250)"/>
<circle cx="507.33" cy="105.30" r="1.2" fill="rgb(0,139,251)"/>
<circle cx="507.03" cy="106.18" r="1.2" fill="rgb(0,133,249)"/>
<circle cx="507.21" cy="107.93" r="1.2" fill="rgb(0,136,250)"/>
<circle cx="507.12" cy="105.96" r="1.2" fill="rgb(0,134,250)"/>
<circle cx="507.31" cy="107.71" r="1.2" fill="rgb(0,134,250)"/>
<circle cx="507.15" cy="105.30" r="1.2" fill="rgb(0,137,250)"/>
<circle cx="507.10" cy="105.52" r="1.2" fill="rgb(0,134,250)"/>
<circle cx="507.35" cy="104.86" r="1.2" fill="rgb(0,136,250)"/>
<circle cx="507.37" cy="106.39" r="1.2" fill="rgb(0,137,250)"/>
<circle cx="507.28" cy="104.21" r="1.2" fill="rgb(0,137,250)"/>
<circle cx="507.30" cy="100.05" r="1.2" fill="rgb(0,136,250)"/>
<circle cx="507.34" cy="100.48" r="1.2" fill="rgb(0,133,249)"/>
<circle cx="507.26" cy="102.89" r="1.2" fill="rgb(0,134,250)"/>
<circle cx="507.29" cy="102.02" r="1.2" fill="rgb(0,134,250)"/>
<circle cx="507.27" cy="109.02" r="1.2" fill="rgb(0,134,250)"/>
<circle cx="507.26" cy="108.80" r="1.2" fill="rgb(0,130,248)"/>
<circle cx="507.19" cy="102.24" r="1.2" fill="rgb(0,134,250)"/>
<circle cx="507.23" cy="100.70" r="1.2" fill="rgb(0,134,250)"/>
<circle cx="507.08" cy="104.86" r="1.2" fill="rgb(0,136,250)"/>
<circle cx="507.31" cy="107.27" r="1.2" fill="rgb(0,136,250)"/>
<circle cx="507.25" cy="103.33" r="1.2" fill="rgb(0,134,250)"/>
<circle cx="507.19" cy="110.33" r="1.2" fill="rgb(0,134,250)"/>
<circle cx="507.27" cy="101.14" r="1.2" fill="rgb(0,134,250)"/>
<circle cx="507.19" cy="110.12" r="1.2" fill="rgb(0,137,250)"/>
<circle cx="507.43" cy="105.30" r="1.2" fill="rgb(0,136,250)"/>
<circle cx="507.24" cy="107.05" r="1.2" fill="rgb(0,134,250)"/>
<circle cx="507.26" cy="101.58" r="1.2" fill="rgb(0,136,250)"/>
<circle cx="507.29" cy="103.77" r="1.2" fill="rgb(0,137,250)"/>
<circle cx="507.20" cy="100.27" r="1.2" fill="rgb(0,136,250)"/>
<circle cx="507.20" cy="102.45" r="1.2" fill="rgb(0,139,251)"/>
<circle cx="507.19" cy="105.74" r="1.2" fill="rgb(0,139,251)"/>
<circle cx="507.27" cy="105.96" r="1.2" fill="rgb(0,137,250)"/>
<circle cx="507.27" cy="108.58" r="1.2" fill="rgb(0,133,249)"/>
<circle cx="507.26" cy="106.18" r="1.2" fill="rgb(0,136,250)"/>
<circle cx="507.15" cy="105.08" r="1.2" fill="rgb(0,136,250)"/>
<circle cx="507.34" cy="106.61" r="1.2" fill="rgb(0,136,250)"/>
<circle cx="507.31" cy="109.46" r="1.2" fill="rgb(0,137,250)"/>
<circle cx="507.32" cy="109.68" r="1.2" fill="rgb(0,136,250)"/>
<circle cx="507.19" cy="110.55" r="1.2" fill="rgb(0,136,250)"/>
<circle cx="507.27" cy="107.49" r="1.2" fill="rgb(0,136,250)"/>
<circle cx="507.24" cy="101.36" r="1.2" fill="rgb(0,136,250)"/>
<circle cx="507.37" cy="104.42" r="1.2" fill="rgb(0,134,250)"/>
<circle cx="507.30" cy="106.83" r="1.2" fill="rgb(0,136,250)"/>
<circle cx="528.78" cy="105.30" r="1.2" fill="rgb(254,0,92)"/>
<circle cx="527.04" cy="105.30" r="1.2" fill="rgb(254,0,92)"/>
<circle cx="532.46" cy="105.30" r="1.2" fill="rgb(246,0,108)"/>
<circle cx="507.22" cy="100.92" r="1.2" fill="rgb(0,134,250)"/>
<circle cx="507.16" cy="104.42" r="1.2" fill="rgb(0,134,250)"/>
<circle cx="507.30" cy="109.90" r="1.2" fill="rgb(0,136,250)"/>
<circle cx="507.28" cy="103.55" r="1.2" fill="rgb(0,136,250)"/>
<circle cx="507.31" cy="103.99" r="1.2" fill="rgb(0,136,250)"/>
<circle cx="507.29" cy="108.15" r="1.2" fill="rgb(0,139,251)"/>
<circle cx="507.31" cy="102.67" r="1.2" fill="rgb(0,134,250)"/>
<circle cx="507.11" cy="105.74" r="1.2" fill="rgb(0,134,250)"/>
<circle cx="507.27" cy="105.52" r="1.2" fill="rgb(0,136,250)"/>
<circle cx="507.04" cy="104.64" r="1.2" fill="rgb(0,136,250)"/>
<circle cx="507.20" cy="105.08" r="1.2" fill="rgb(0,136,250)"/>
<circle cx="507.23" cy="109.24" r="1.2" fill="rgb(0,136,250)"/>
<circle cx="507.18" cy="104.64" r="1.2" fill="rgb(0,136,250)"/>
<circle cx="507.31" cy="108.36" r="1.2" fill="rgb(0,137,250)"/>
<circle cx="507.42" cy="105.52" r="1.2" fill="rgb(0,139,251)"/>
<text x="421.29" y="123.42" font-family="Liberation Sans" font-size="7.0" fill="#444" text-anchor="start" font-weight="normal" textLength="7.7" lengthAdjust="spacingAndGlyphs" >PL</text>
<circle cx="515.74" cy="120.50" r="1.2" fill="rgb(251,0,99)"/>
<circle cx="506.93" cy="123.24" r="1.2" fill="rgb(96,91,220)"/>
<circle cx="509.19" cy="120.50" r="1.2" fill="rgb(227,0,130)"/>
<circle cx="506.91" cy="117.76" r="1.2" fill="rgb(136,63,194)"/>
<circle cx="500.74" cy="120.50" r="1.2" fill="rgb(202,0,151)"/>
<circle cx="506.12" cy="120.50" r="1.2" fill="rgb(191,0,157)"/>
<circle cx="506.99" cy="120.50" r="1.2" fill="rgb(108,84,214)"/>
<circle cx="507.03" cy="121.87" r="1.2" fill="rgb(91,93,221)"/>
<circle cx="507.87" cy="121.87" r="1.2" fill="rgb(130,68,199)"/>
<circle cx="507.30" cy="121.87" r="1.2" fill="rgb(173,19,166)"/>
<circle cx="506.79" cy="120.50" r="1.2" fill="rgb(148,48,182)"/>
<circle cx="507.56" cy="120.50" r="1.2" fill="rgb(130,68,199)"/>
<circle cx="513.53" cy="120.50" r="1.2" fill="rgb(221,0,136)"/>
<circle cx="507.31" cy="120.50" r="1.2" fill="rgb(136,63,194)"/>
<circle cx="510.87" cy="120.50" r="1.2" fill="rgb(212,0,144)"/>
<circle cx="507.77" cy="121.87" r="1.2" fill="rgb(96,91,220)"/>
<circle cx="512.42" cy="120.50" r="1.2" fill="rgb(236,0,120)"/>
<circle cx="501.71" cy="120.50" r="1.2" fill="rgb(188,0,159)"/>
<circle cx="506.86" cy="119.13" r="1.2" fill="rgb(146,51,185)"/>
<circle cx="509.86" cy="120.50" r="1.2" fill="rgb(231,0,126)"/>
<circle cx="509.57" cy="120.50" r="1.2" fill="rgb(225,0,132)"/>
<circle cx="506.57" cy="120.50" r="1.2" fill="rgb(154,37,174)"/>
<circle cx="506.15" cy="121.87" r="1.2" fill="rgb(152,41,177)"/>
<circle cx="503.76" cy="121.87" r="1.2" fill="rgb(167,26,169)"/>
<circle cx="507.70" cy="119.13" r="1.2" fill="rgb(173,19,166)"/>
<circle cx="506.91" cy="121.87" r="1.2" fill="rgb(176,15,165)"/>
<circle cx="513.36" cy="120.50" r="1.2" fill="rgb(229,0,128)"/>
<circle cx="507.88" cy="120.50" r="1.2" fill="rgb(154,37,174)"/>
<circle cx="509.74" cy="120.50" r="1.2" fill="rgb(219,0,138)"/>
<circle cx="507.73" cy="120.50" r="1.2" fill="rgb(185,0,160)"/>
<circle cx="506.89" cy="124.60" r="1.2" fill="rgb(141,57,190)"/>
<circle cx="507.17" cy="120.50" r="1.2" fill="rgb(143,54,187)"/>
<circle cx="506.36" cy="120.50" r="1.2" fill="rgb(179,10,163)"/>
<circle cx="510.31" cy="120.50" r="1.2" fill="rgb(227,0,130)"/>
<circle cx="506.84" cy="120.50" r="1.2" fill="rgb(91,93,221)"/>
<circle cx="504.29" cy="121.87" r="1.2" fill="rgb(205,0,149)"/>
<circle cx="504.88" cy="120.50" r="1.2" fill="rgb(87,95,223)"/>
<circle cx="514.33" cy="120.50" r="1.2" fill="rgb(235,0,122)"/>
<circle cx="507.59" cy="121.87" r="1.2" fill="rgb(133,66,197)"/>
<circle cx="503.76" cy="120.50" r="1.2" fill="rgb(176,15,165)"/>
<circle cx="507.48" cy="121.87" r="1.2" fill="rgb(152,41,177)"/>
<circle cx="507.67" cy="120.50" r="1.2" fill="rgb(167,26,169)"/>
<circle cx="508.43" cy="120.50" r="1.2" fill="rgb(111,82,212)"/>
<circle cx="513.03" cy="120.50" r="1.2" fill="rgb(231,0,126)"/>
<circle cx="504.39" cy="120.50" r="1.2" fill="rgb(150,45,179)"/>
<circle cx="506.86" cy="116.40" r="1.2" fill="rgb(141,57,190)"/>
<text x="414.30" y="138.62" font-family="Liberation Sans" font-size="7.0" fill="#444" text-anchor="start" font-weight="normal" textLength="14.7" lengthAdjust="spacingAndGlyphs" >OMC</text>
<circle cx="502.49" cy="135.70" r="1.2" fill="rgb(209,0,145)"/>
<circle cx="507.01" cy="135.70" r="1.2" fill="rgb(0,115,239)"/>
<circle cx="507.29" cy="138.44" r="1.2" fill="rgb(0,111,237)"/>
<circle cx="507.51" cy="138.44" r="1.2" fill="rgb(24,109,235)"/>
<circle cx="505.40" cy="138.44" r="1.2" fill="rgb(0,121,243)"/>
<circle cx="505.71" cy="135.70" r="1.2" fill="rgb(0,123,244)"/>
<circle cx="510.46" cy="135.70" r="1.2" fill="rgb(223,0,134)"/>
<circle cx="512.24" cy="135.70" r="1.2" fill="rgb(240,0,116)"/>
<circle cx="509.64" cy="135.70" r="1.2" fill="rgb(233,0,124)"/>
<circle cx="509.25" cy="135.70" r="1.2" fill="rgb(233,0,124)"/>
<circle cx="507.41" cy="132.96" r="1.2" fill="rgb(0,113,238)"/>
<circle cx="509.81" cy="135.70" r="1.2" fill="rgb(235,0,122)"/>
<circle cx="505.43" cy="135.70" r="1.2" fill="rgb(0,115,239)"/>
<circle cx="507.31" cy="135.70" r="1.2" fill="rgb(0,119,242)"/>
<circle cx="507.06" cy="132.96" r="1.2" fill="rgb(0,123,244)"/>
<circle cx="511.31" cy="135.70" r="1.2" fill="rgb(236,0,120)"/>
<circle cx="509.26" cy="138.44" r="1.2" fill="rgb(233,0,124)"/>
<circle cx="504.77" cy="135.70" r="1.2" fill="rgb(0,132,248)"/>
<circle cx="507.40" cy="138.44" r="1.2" fill="rgb(0,124,245)"/>
<circle cx="507.56" cy="135.70" r="1.2" fill="rgb(70,100,228)"/>
<circle cx="513.73" cy="135.70" r="1.2" fill="rgb(235,0,122)"/>
<circle cx="513.07" cy="135.70" r="1.2" fill="rgb(229,0,128)"/>
<circle cx="509.03" cy="135.70" r="1.2" fill="rgb(229,0,128)"/>
<circle cx="506.13" cy="135.70" r="1.2" fill="rgb(0,129,247)"/>
<circle cx="507.40" cy="135.70" r="1.2" fill="rgb(0,123,244)"/>
<circle cx="511.05" cy="135.70" r="1.2" fill="rgb(233,0,124)"/>
<circle cx="507.11" cy="138.44" r="1.2" fill="rgb(0,121,243)"/>
<circle cx="510.65" cy="135.70" r="1.2" fill="rgb(229,0,128)"/>
<circle cx="508.01" cy="135.70" r="1.2" fill="rgb(0,132,248)"/>
<circle cx="511.54" cy="135.70" r="1.2" fill="rgb(248,0,103)"/>
<circle cx="510.32" cy="135.70" r="1.2" fill="rgb(247,0,105)"/>
<circle cx="507.31" cy="132.96" r="1.2" fill="rgb(0,116,240)"/>
<circle cx="507.13" cy="135.70" r="1.2" fill="rgb(24,109,235)"/>
<circle cx="509.10" cy="135.70" r="1.2" fill="rgb(246,0,108)"/>
<circle cx="505.57" cy="135.70" r="1.2" fill="rgb(0,119,242)"/>
<circle cx="512.59" cy="135.70" r="1.2" fill="rgb(246,0,108)"/>
<circle cx="507.26" cy="135.70" r="1.2" fill="rgb(24,109,235)"/>
<text x="421.99" y="153.82" font-family="Liberation Sans" font-size="7.0" fill="#444" text-anchor="start" font-weight="normal" textLength="7.0" lengthAdjust="spacingAndGlyphs" >LL</text>
<circle cx="508.06" cy="150.90" r="1.2" fill="rgb(82,97,225)"/>
<circle cx="503.96" cy="150.90" r="1.2" fill="rgb(152,41,177)"/>
<circle cx="511.01" cy="150.90" r="1.2" fill="rgb(154,37,174)"/>
<circle cx="504.45" cy="150.90" r="1.2" fill="rgb(179,10,163)"/>
<circle cx="506.73" cy="150.90" r="1.2" fill="rgb(148,48,182)"/>
<circle cx="507.04" cy="149.08" r="1.2" fill="rgb(70,100,228)"/>
<circle cx="510.25" cy="150.90" r="1.2" fill="rgb(154,37,174)"/>
<circle cx="507.62" cy="149.08" r="1.2" fill="rgb(48,106,233)"/>
<circle cx="510.35" cy="150.90" r="1.2" fill="rgb(154,37,174)"/>
<circle cx="507.20" cy="150.90" r="1.2" fill="rgb(121,76,206)"/>
<circle cx="513.02" cy="150.90" r="1.2" fill="rgb(115,80,210)"/>
<circle cx="506.65" cy="150.90" r="1.2" fill="rgb(143,54,187)"/>
<circle cx="507.91" cy="150.90" r="1.2" fill="rgb(138,60,192)"/>
<circle cx="503.48" cy="150.90" r="1.2" fill="rgb(138,60,192)"/>
<circle cx="509.96" cy="150.90" r="1.2" fill="rgb(167,26,169)"/>
<circle cx="506.69" cy="152.72" r="1.2" fill="rgb(154,37,174)"/>
<circle cx="499.92" cy="150.90" r="1.2" fill="rgb(233,0,124)"/>
<circle cx="507.20" cy="154.55" r="1.2" fill="rgb(64,102,230)"/>
<circle cx="506.21" cy="150.90" r="1.2" fill="rgb(194,0,155)"/>
<circle cx="507.08" cy="150.90" r="1.2" fill="rgb(136,63,194)"/>
<circle cx="511.19" cy="150.90" r="1.2" fill="rgb(127,71,201)"/>
<circle cx="506.61" cy="149.08" r="1.2" fill="rgb(133,66,197)"/>
<circle cx="507.21" cy="149.08" r="1.2" fill="rgb(118,78,208)"/>
<circle cx="507.05" cy="152.72" r="1.2" fill="rgb(141,57,190)"/>
<circle cx="507.59" cy="150.90" r="1.2" fill="rgb(57,104,231)"/>
<circle cx="507.31" cy="152.72" r="1.2" fill="rgb(0,118,241)"/>
<circle cx="506.84" cy="150.90" r="1.2" fill="rgb(64,102,230)"/>
<circle cx="503.94" cy="152.72" r="1.2" fill="rgb(143,54,187)"/>
<circle cx="507.05" cy="154.55" r="1.2" fill="rgb(0,113,238)"/>
<circle cx="507.37" cy="150.90" r="1.2" fill="rgb(87,95,223)"/>
<circle cx="506.55" cy="152.72" r="1.2" fill="rgb(157,34,172)"/>
<circle cx="507.49" cy="152.72" r="1.2" fill="rgb(182,4,162)"/>
<circle cx="507.69" cy="152.72" r="1.2" fill="rgb(121,76,206)"/>
<circle cx="507.37" cy="152.72" r="1.2" fill="rgb(163,29,170)"/>
<circle cx="506.92" cy="152.72" r="1.2" fill="rgb(141,57,190)"/>
<circle cx="507.52" cy="150.90" r="1.2" fill="rgb(160,31,171)"/>
<circle cx="506.93" cy="150.90" r="1.2" fill="rgb(108,84,214)"/>
<text x="420.25" y="169.02" font-family="Liberation Sans" font-size="7.0" fill="#444" text-anchor="start" font-weight="normal" textLength="8.8" lengthAdjust="spacingAndGlyphs" >CA</text>
<circle cx="507.44" cy="166.10" r="1.2" fill="rgb(0,136,250)"/>
<circle cx="507.21" cy="163.75" r="1.2" fill="rgb(0,136,250)"/>
<circle cx="507.28" cy="167.66" r="1.2" fill="rgb(0,136,250)"/>
<circle cx="507.21" cy="165.32" r="1.2" fill="rgb(0,136,250)"/>
<circle cx="507.26" cy="165.32" r="1.2" fill="rgb(0,134,250)"/>
<circle cx="507.28" cy="166.10" r="1.2" fill="rgb(0,134,250)"/>
<circle cx="507.34" cy="166.88" r="1.2" fill="rgb(0,136,250)"/>
<circle cx="507.19" cy="168.45" r="1.2" fill="rgb(0,136,250)"/>
<circle cx="507.35" cy="167.66" r="1.2" fill="rgb(0,134,250)"/>
<circle cx="511.99" cy="166.10" r="1.2" fill="rgb(241,0,114)"/>
<circle cx="507.19" cy="170.79" r="1.2" fill="rgb(0,134,250)"/>
<circle cx="507.30" cy="165.32" r="1.2" fill="rgb(0,133,249)"/>
<circle cx="507.23" cy="166.10" r="1.2" fill="rgb(0,134,250)"/>
<circle cx="507.18" cy="166.88" r="1.2" fill="rgb(0,136,250)"/>
<circle cx="507.32" cy="164.54" r="1.2" fill="rgb(0,134,250)"/>
<circle cx="507.30" cy="166.88" r="1.2" fill="rgb(0,136,250)"/>
<circle cx="507.25" cy="170.01" r="1.2" fill="rgb(0,134,250)"/>
<circle cx="507.22" cy="167.66" r="1.2" fill="rgb(0,137,250)"/>
<circle cx="507.21" cy="162.97" r="1.2" fill="rgb(0,139,251)"/>
<circle cx="511.56" cy="166.10" r="1.2" fill="rgb(255,0,88)"/>
<circle cx="507.24" cy="168.45" r="1.2" fill="rgb(0,134,250)"/>
<circle cx="507.37" cy="165.32" r="1.2" fill="rgb(0,137,250)"/>
<circle cx="507.31" cy="168.45" r="1.2" fill="rgb(0,137,250)"/>
<circle cx="507.15" cy="165.32" r="1.2" fill="rgb(0,134,250)"/>
<circle cx="511.05" cy="166.10" r="1.2" fill="rgb(235,0,122)"/>
<circle cx="507.34" cy="166.10" r="1.2" fill="rgb(0,136,250)"/>
<circle cx="507.22" cy="164.54" r="1.2" fill="rgb(0,137,250)"/>
<circle cx="507.20" cy="170.01" r="1.2" fill="rgb(0,134,250)"/>
<circle cx="507.23" cy="169.23" r="1.2" fill="rgb(0,136,250)"/>
<circle cx="507.36" cy="164.54" r="1.2" fill="rgb(0,134,250)"/>
<circle cx="511.22" cy="166.10" r="1.2" fill="rgb(247,0,105)"/>
<circle cx="507.24" cy="162.97" r="1.2" fill="rgb(0,136,250)"/>
<circle cx="510.34" cy="166.10" r="1.2" fill="rgb(246,0,108)"/>
<circle cx="507.27" cy="166.10" r="1.2" fill="rgb(0,137,250)"/>
<circle cx="507.20" cy="166.88" r="1.2" fill="rgb(0,134,250)"/>
<circle cx="507.28" cy="166.88" r="1.2" fill="rgb(0,134,250)"/>
<circle cx="507.23" cy="167.66" r="1.2" fill="rgb(0,136,250)"/>
<circle cx="507.17" cy="166.10" r="1.2" fill="rgb(0,136,250)"/>
<circle cx="507.40" cy="166.10" r="1.2" fill="rgb(0,134,250)"/>
<circle cx="507.20" cy="169.23" r="1.2" fill="rgb(0,137,250)"/>
<circle cx="510.61" cy="166.10" r="1.2" fill="rgb(250,0,101)"/>
<circle cx="507.23" cy="164.54" r="1.2" fill="rgb(0,136,250)"/>
<circle cx="507.33" cy="163.75" r="1.2" fill="rgb(0,136,250)"/>
<circle cx="507.11" cy="166.10" r="1.2" fill="rgb(0,136,250)"/>
<circle cx="507.27" cy="163.75" r="1.2" fill="rgb(0,139,251)"/>
<circle cx="507.23" cy="162.19" r="1.2" fill="rgb(0,134,250)"/>
<text x="419.90" y="184.22" font-family="Liberation Sans" font-size="7.0" fill="#444" text-anchor="start" font-weight="normal" textLength="9.1" lengthAdjust="spacingAndGlyphs" >GA</text>
<circle cx="510.60" cy="181.30" r="1.2" fill="rgb(235,0,122)"/>
<circle cx="507.27" cy="183.49" r="1.2" fill="rgb(0,134,250)"/>
<circle cx="507.37" cy="179.11" r="1.2" fill="rgb(0,137,250)"/>
<circle cx="507.42" cy="181.30" r="1.2" fill="rgb(0,134,250)"/>
<circle cx="507.22" cy="181.30" r="1.2" fill="rgb(0,137,250)"/>
<circle cx="507.52" cy="181.30" r="1.2" fill="rgb(0,136,250)"/>
<circle cx="507.37" cy="184.58" r="1.2" fill="rgb(0,137,250)"/>
<circle cx="507.23" cy="179.11" r="1.2" fill="rgb(0,137,250)"/>
<circle cx="507.43" cy="182.39" r="1.2" fill="rgb(0,134,250)"/>
<circle cx="507.17" cy="181.30" r="1.2" fill="rgb(0,136,250)"/>
<circle cx="507.33" cy="182.39" r="1.2" fill="rgb(0,134,250)"/>
<circle cx="507.39" cy="180.21" r="1.2" fill="rgb(0,133,249)"/>
<circle cx="507.23" cy="185.68" r="1.2" fill="rgb(0,136,250)"/>
<circle cx="507.38" cy="182.39" r="1.2" fill="rgb(0,137,250)"/>
<circle cx="510.41" cy="181.30" r="1.2" fill="rgb(255,0,86)"/>
<circle cx="507.12" cy="183.49" r="1.2" fill="rgb(0,137,250)"/>
<circle cx="507.21" cy="180.21" r="1.2" fill="rgb(0,139,251)"/>
<circle cx="507.37" cy="178.02" r="1.2" fill="rgb(0,137,250)"/>
<circle cx="507.24" cy="183.49" r="1.2" fill="rgb(0,139,251)"/>
<circle cx="507.28" cy="184.58" r="1.2" fill="rgb(0,137,250)"/>
<circle cx="507.29" cy="180.21" r="1.2" fill="rgb(0,137,250)"/>
<circle cx="507.34" cy="183.49" r="1.2" fill="rgb(0,136,250)"/>
<circle cx="507.11" cy="181.30" r="1.2" fill="rgb(0,133,249)"/>
<circle cx="511.50" cy="181.30" r="1.2" fill="rgb(250,0,101)"/>
<circle cx="507.38" cy="181.30" r="1.2" fill="rgb(0,139,251)"/>
<circle cx="511.89" cy="181.30" r="1.2" fill="rgb(251,0,99)"/>
<circle cx="507.41" cy="183.49" r="1.2" fill="rgb(0,137,250)"/>
<circle cx="507.12" cy="180.21" r="1.2" fill="rgb(0,137,250)"/>
<circle cx="507.34" cy="180.21" r="1.2" fill="rgb(0,134,250)"/>
<circle cx="507.31" cy="179.11" r="1.2" fill="rgb(0,139,251)"/>
<circle cx="507.10" cy="182.39" r="1.2" fill="rgb(0,136,250)"/>
<circle cx="507.30" cy="181.30" r="1.2" fill="rgb(0,136,250)"/>
<circle cx="507.15" cy="182.39" r="1.2" fill="rgb(0,137,250)"/>
<circle cx="507.26" cy="181.30" r="1.2" fill="rgb(0,137,250)"/>
<circle cx="507.39" cy="185.68" r="1.2" fill="rgb(0,133,249)"/>
<circle cx="507.26" cy="178.02" r="1.2" fill="rgb(0,137,250)"/>
<circle cx="507.25" cy="182.39" r="1.2" fill="rgb(0,133,249)"/>
<circle cx="507.25" cy="180.21" r="1.2" fill="rgb(0,137,250)"/>
<circle cx="507.44" cy="180.21" r="1.2" fill="rgb(0,136,250)"/>
<circle cx="507.21" cy="183.49" r="1.2" fill="rgb(0,134,250)"/>
<circle cx="507.20" cy="182.39" r="1.2" fill="rgb(0,137,250)"/>
<circle cx="507.30" cy="182.39" r="1.2" fill="rgb(0,136,250)"/>
<circle cx="507.25" cy="184.58" r="1.2" fill="rgb(0,134,250)"/>
<circle cx="507.33" cy="181.30" r="1.2" fill="rgb(0,134,250)"/>
<text x="419.55" y="199.42" font-family="Liberation Sans" font-size="7.0" fill="#444" text-anchor="start" font-weight="normal" textLength="9.5" lengthAdjust="spacingAndGlyphs" >QD</text>
<circle cx="507.19" cy="195.59" r="1.2" fill="rgb(0,134,250)"/>
<circle cx="507.30" cy="198.32" r="1.2" fill="rgb(0,127,247)"/>
<circle cx="507.31" cy="195.59" r="1.2" fill="rgb(0,137,250)"/>
<circle cx="510.59" cy="197.41" r="1.2" fill="rgb(246,0,108)"/>
<circle cx="507.27" cy="194.68" r="1.2" fill="rgb(0,133,249)"/>
<circle cx="507.18" cy="197.41" r="1.2" fill="rgb(0,132,248)"/>
<circle cx="507.40" cy="193.76" r="1.2" fill="rgb(0,134,250)"/>
<circle cx="507.38" cy="196.50" r="1.2" fill="rgb(0,139,251)"/>
<circle cx="507.19" cy="196.50" r="1.2" fill="rgb(0,133,249)"/>
<circle cx="507.16" cy="194.68" r="1.2" fill="rgb(0,136,250)"/>
<circle cx="507.20" cy="198.32" r="1.2" fill="rgb(0,134,250)"/>
<circle cx="507.26" cy="195.59" r="1.2" fill="rgb(0,134,250)"/>
<circle cx="507.44" cy="196.50" r="1.2" fill="rgb(0,137,250)"/>
<circle cx="507.27" cy="197.41" r="1.2" fill="rgb(0,133,249)"/>
<circle cx="509.85" cy="196.50" r="1.2" fill="rgb(243,0,112)"/>
<circle cx="507.34" cy="196.50" r="1.2" fill="rgb(0,134,250)"/>
<circle cx="507.37" cy="198.32" r="1.2" fill="rgb(0,137,250)"/>
<circle cx="508.56" cy="196.50" r="1.2" fill="rgb(154,37,174)"/>
<circle cx="507.42" cy="201.06" r="1.2" fill="rgb(0,132,248)"/>
<circle cx="507.38" cy="195.59" r="1.2" fill="rgb(0,136,250)"/>
<circle cx="506.98" cy="196.50" r="1.2" fill="rgb(0,139,251)"/>
<circle cx="510.59" cy="196.50" r="1.2" fill="rgb(229,0,128)"/>
<circle cx="507.23" cy="197.41" r="1.2" fill="rgb(0,134,250)"/>
<circle cx="507.44" cy="195.59" r="1.2" fill="rgb(0,132,248)"/>
<circle cx="507.29" cy="196.50" r="1.2" fill="rgb(0,139,251)"/>
<circle cx="504.88" cy="196.50" r="1.2" fill="rgb(133,66,197)"/>
<circle cx="507.48" cy="198.32" r="1.2" fill="rgb(0,133,249)"/>
<circle cx="507.34" cy="197.41" r="1.2" fill="rgb(0,137,250)"/>
<circle cx="507.24" cy="196.50" r="1.2" fill="rgb(0,136,250)"/>
<circle cx="507.38" cy="197.41" r="1.2" fill="rgb(0,136,250)"/>
<circle cx="507.98" cy="196.50" r="1.2" fill="rgb(152,41,177)"/>
<circle cx="507.05" cy="196.50" r="1.2" fill="rgb(0,129,247)"/>
<circle cx="507.45" cy="197.41" r="1.2" fill="rgb(0,136,250)"/>
<circle cx="507.37" cy="200.15" r="1.2" fill="rgb(0,129,247)"/>
<circle cx="507.37" cy="194.68" r="1.2" fill="rgb(0,133,249)"/>
<circle cx="508.71" cy="196.50" r="1.2" fill="rgb(170,23,167)"/>
<circle cx="507.21" cy="195.59" r="1.2" fill="rgb(0,134,250)"/>
<circle cx="506.96" cy="196.50" r="1.2" fill="rgb(0,132,248)"/>
<circle cx="507.32" cy="198.32" r="1.2" fill="rgb(0,130,248)"/>
<circle cx="504.98" cy="196.50" r="1.2" fill="rgb(136,63,194)"/>
<circle cx="507.42" cy="192.85" r="1.2" fill="rgb(0,136,250)"/>
<circle cx="507.19" cy="198.32" r="1.2" fill="rgb(0,132,248)"/>
<circle cx="507.38" cy="199.24" r="1.2" fill="rgb(0,134,250)"/>
<circle cx="507.14" cy="196.50" r="1.2" fill="rgb(0,139,251)"/>
<text x="416.05" y="214.62" font-family="Liberation Sans" font-size="7.0" fill="#444" text-anchor="start" font-weight="normal" textLength="13.0" lengthAdjust="spacingAndGlyphs" >SDA</text>
<circle cx="507.28" cy="209.51" r="1.2" fill="rgb(0,127,247)"/>
<circle cx="507.24" cy="216.08" r="1.2" fill="rgb(0,132,248)"/>
<circle cx="507.32" cy="210.61" r="1.2" fill="rgb(0,134,250)"/>
<circle cx="507.30" cy="207.32" r="1.2" fill="rgb(0,134,250)"/>
<circle cx="505.34" cy="211.70" r="1.2" fill="rgb(138,60,192)"/>
<circle cx="507.36" cy="212.79" r="1.2" fill="rgb(0,136,250)"/>
<circle cx="510.01" cy="211.70" r="1.2" fill="rgb(233,0,124)"/>
<circle cx="507.48" cy="213.89" r="1.2" fill="rgb(0,136,250)"/>
<circle cx="507.48" cy="210.61" r="1.2" fill="rgb(0,137,250)"/>
<circle cx="507.13" cy="212.79" r="1.2" fill="rgb(0,136,250)"/>
<circle cx="510.68" cy="211.70" r="1.2" fill="rgb(229,0,128)"/>
<circle cx="507.11" cy="211.70" r="1.2" fill="rgb(0,137,250)"/>
<circle cx="507.11" cy="213.89" r="1.2" fill="rgb(0,133,249)"/>
<circle cx="507.34" cy="216.08" r="1.2" fill="rgb(0,130,248)"/>
<circle cx="507.52" cy="209.51" r="1.2" fill="rgb(154,37,174)"/>
<circle cx="507.32" cy="212.79" r="1.2" fill="rgb(0,139,251)"/>
<circle cx="507.27" cy="211.70" r="1.2" fill="rgb(0,133,249)"/>
<circle cx="507.45" cy="212.79" r="1.2" fill="rgb(0,137,250)"/>
<circle cx="507.37" cy="210.61" r="1.2" fill="rgb(0,134,250)"/>
<circle cx="507.20" cy="212.79" r="1.2" fill="rgb(0,137,250)"/>
<circle cx="507.39" cy="213.89" r="1.2" fill="rgb(0,133,249)"/>
<circle cx="507.43" cy="214.98" r="1.2" fill="rgb(0,136,250)"/>
<circle cx="507.33" cy="211.70" r="1.2" fill="rgb(0,129,247)"/>
<circle cx="507.21" cy="211.70" r="1.2" fill="rgb(0,133,249)"/>
<circle cx="507.35" cy="214.98" r="1.2" fill="rgb(0,132,248)"/>
<circle cx="507.41" cy="211.70" r="1.2" fill="rgb(0,137,250)"/>
<circle cx="507.03" cy="211.70" r="1.2" fill="rgb(0,139,251)"/>
<circle cx="507.26" cy="212.79" r="1.2" fill="rgb(0,134,250)"/>
<circle cx="507.30" cy="208.42" r="1.2" fill="rgb(0,134,250)"/>
<circle cx="507.34" cy="209.51" r="1.2" fill="rgb(0,136,250)"/>
<circle cx="507.19" cy="213.89" r="1.2" fill="rgb(0,139,251)"/>
<circle cx="507.50" cy="211.70" r="1.2" fill="rgb(0,134,250)"/>
<circle cx="507.27" cy="210.61" r="1.2" fill="rgb(148,48,182)"/>
<circle cx="507.36" cy="209.51" r="1.2" fill="rgb(0,132,248)"/>
<circle cx="507.28" cy="213.89" r="1.2" fill="rgb(0,132,248)"/>
<circle cx="507.32" cy="213.89" r="1.2" fill="rgb(0,133,249)"/>
<circle cx="507.13" cy="210.61" r="1.2" fill="rgb(0,137,250)"/>
<circle cx="507.25" cy="208.42" r="1.2" fill="rgb(0,139,251)"/>
<circle cx="510.80" cy="211.70" r="1.2" fill="rgb(240,0,116)"/>
<circle cx="503.08" cy="211.70" r="1.2" fill="rgb(130,68,199)"/>
<circle cx="507.28" cy="214.98" r="1.2" fill="rgb(0,137,250)"/>
<circle cx="507.14" cy="209.51" r="1.2" fill="rgb(0,132,248)"/>
<circle cx="507.18" cy="210.61" r="1.2" fill="rgb(0,127,247)"/>
<circle cx="507.23" cy="207.32" r="1.2" fill="rgb(152,41,177)"/>
<text x="420.60" y="229.82" font-family="Liberation Sans" font-size="7.0" fill="#444" text-anchor="start" font-weight="normal" textLength="8.4" lengthAdjust="spacingAndGlyphs" >BA</text>
<circle cx="507.14" cy="228.27" r="1.2" fill="rgb(0,136,250)"/>
<circle cx="507.30" cy="224.16" r="1.2" fill="rgb(0,137,250)"/>
<circle cx="507.24" cy="229.64" r="1.2" fill="rgb(0,134,250)"/>
<circle cx="507.22" cy="229.64" r="1.2" fill="rgb(0,134,250)"/>
<circle cx="507.29" cy="228.27" r="1.2" fill="rgb(0,137,250)"/>
<circle cx="507.22" cy="228.27" r="1.2" fill="rgb(0,137,250)"/>
<circle cx="507.24" cy="231.00" r="1.2" fill="rgb(0,139,251)"/>
<circle cx="507.16" cy="225.53" r="1.2" fill="rgb(0,137,250)"/>
<circle cx="507.16" cy="228.27" r="1.2" fill="rgb(0,137,250)"/>
<circle cx="507.33" cy="228.27" r="1.2" fill="rgb(0,136,250)"/>
<circle cx="507.24" cy="228.27" r="1.2" fill="rgb(0,136,250)"/>
<circle cx="507.09" cy="226.90" r="1.2" fill="rgb(0,134,250)"/>
<circle cx="507.32" cy="225.53" r="1.2" fill="rgb(0,137,250)"/>
<circle cx="507.19" cy="228.27" r="1.2" fill="rgb(0,137,250)"/>
<circle cx="507.42" cy="226.90" r="1.2" fill="rgb(0,137,250)"/>
<circle cx="507.31" cy="229.64" r="1.2" fill="rgb(0,139,251)"/>
<circle cx="507.14" cy="226.90" r="1.2" fill="rgb(0,134,250)"/>
<circle cx="507.28" cy="226.90" r="1.2" fill="rgb(0,134,250)"/>
<circle cx="507.22" cy="222.80" r="1.2" fill="rgb(0,136,250)"/>
<circle cx="507.15" cy="229.64" r="1.2" fill="rgb(0,139,251)"/>
<circle cx="507.16" cy="224.16" r="1.2" fill="rgb(0,139,251)"/>
<circle cx="507.24" cy="226.90" r="1.2" fill="rgb(0,137,250)"/>
<circle cx="507.47" cy="226.90" r="1.2" fill="rgb(0,136,250)"/>
<circle cx="506.99" cy="226.90" r="1.2" fill="rgb(0,134,250)"/>
<circle cx="509.54" cy="226.90" r="1.2" fill="rgb(238,0,118)"/>
<circle cx="507.20" cy="225.53" r="1.2" fill="rgb(0,136,250)"/>
<circle cx="509.76" cy="226.90" r="1.2" fill="rgb(235,0,122)"/>
<circle cx="509.21" cy="226.90" r="1.2" fill="rgb(250,0,101)"/>
<circle cx="507.23" cy="225.53" r="1.2" fill="rgb(0,136,250)"/>
<circle cx="507.38" cy="228.27" r="1.2" fill="rgb(0,136,250)"/>
<circle cx="507.21" cy="231.00" r="1.2" fill="rgb(0,136,250)"/>
<circle cx="507.15" cy="231.00" r="1.2" fill="rgb(0,134,250)"/>
<circle cx="507.20" cy="224.16" r="1.2" fill="rgb(0,134,250)"/>
<circle cx="507.27" cy="226.90" r="1.2" fill="rgb(0,136,250)"/>
<circle cx="507.37" cy="226.90" r="1.2" fill="rgb(0,139,251)"/>
<circle cx="507.20" cy="231.00" r="1.2" fill="rgb(0,136,250)"/>
<circle cx="507.22" cy="225.53" r="1.2" fill="rgb(0,137,250)"/>
<circle cx="507.23" cy="222.80" r="1.2" fill="rgb(0,136,250)"/>
<circle cx="507.33" cy="226.90" r="1.2" fill="rgb(0,137,250)"/>
<circle cx="507.23" cy="224.16" r="1.2" fill="rgb(0,134,250)"/>
<circle cx="507.29" cy="231.00" r="1.2" fill="rgb(0,137,250)"/>
<circle cx="507.37" cy="225.53" r="1.2" fill="rgb(0,134,250)"/>
<circle cx="507.31" cy="225.53" r="1.2" fill="rgb(0,133,249)"/>
<circle cx="507.18" cy="224.16" r="1.2" fill="rgb(0,136,250)"/>
<circle cx="507.20" cy="229.64" r="1.2" fill="rgb(0,134,250)"/>
<circle cx="507.22" cy="226.90" r="1.2" fill="rgb(0,139,251)"/>
<circle cx="507.18" cy="226.90" r="1.2" fill="rgb(0,137,250)"/>
<circle cx="507.15" cy="226.90" r="1.2" fill="rgb(0,134,250)"/>
<line x1="441.30" y1="242.30" x2="642.40" y2="242.30" stroke="#333" stroke-width="0.8" />
<line x1="462.40" y1="242.30" x2="462.40" y2="244.80" stroke="#333" stroke-width="0.7" />
<text x="462.40" y="250.24" font-family="Liberation Sans" font-size="6.5" fill="#333" text-anchor="middle" font-weight="normal" >−10</text>
<line x1="485.00" y1="242.30" x2="485.00" y2="244.80" stroke="#333" stroke-width="0.7" />
<text x="485.00" y="250.24" font-family="Liberation Sans" font-size="6.5" fill="#333" text-anchor="middle" font-weight="normal" >−5</text>
<line x1="507.60" y1="242.30" x2="507.60" y2="244.80" stroke="#333" stroke-width="0.7" />
<text x="507.60" y="250.24" font-family="Liberation Sans" font-size="6.5" fill="#333" text-anchor="middle" font-weight="normal" >0</text>
<line x1="530.20" y1="242.30" x2="530.20" y2="244.80" stroke="#333" stroke-width="0.7" />
<text x="530.20" y="250.24" font-family="Liberation Sans" font-size="6.5" fill="#333" text-anchor="middle" font-weight="normal" >5</text>
<line x1="552.80" y1="242.30" x2="552.80" y2="244.80" stroke="#333" stroke-width="0.7" />
<text x="552.80" y="250.24" font-family="Liberation Sans" font-size="6.5" fill="#333" text-anchor="middle" font-weight="normal" >10</text>
<line x1="575.40" y1="242.30" x2="575.40" y2="244.80" stroke="#333" stroke-width="0.7" />
<text x="575.40" y="250.24" font-family="Liberation Sans" font-size="6.5" fill="#333" text-anchor="middle" font-weight="normal" >15</text>
<line x1="598.00" y1="242.30" x2="598.00" y2="244.80" stroke="#333" stroke-width="0.7" />
<text x="598.00" y="250.24" font-family="Liberation Sans" font-size="6.5" fill="#333" text-anchor="middle" font-weight="normal" >20</text>
<line x1="620.60" y1="242.30" x2="620.60" y2="244.80" stroke="#333" stroke-width="0.7" />
<text x="620.60" y="250.24" font-family="Liberation Sans" font-size="6.5" fill="#333" text-anchor="middle" font-weight="normal" >25</text>
<text x="540.70" y="258.66" font-family="Liberation Sans" font-size="7.4" fill="#333" text-anchor="middle" font-weight="normal" >SHAP value (impact on model output)</text>
<defs><linearGradient id="cb44" x1="0" x2="0" y1="1" y2="0"><stop offset="0.00" stop-color="rgb(0,139,251)"/><stop offset="0.10" stop-color="rgb(0,124,245)"/><stop offset="0.20" stop-color="rgb(38,108,234)"/><stop offset="0.30" stop-color="rgb(100,89,218)"/><stop offset="0.40" stop-color="rgb(133,66,197)"/><stop offset="0.50" stop-color="rgb(157,34,172)"/><stop offset="0.60" stop-color="rgb(185,0,160)"/><stop offset="0.70" stop-color="rgb(212,0,144)"/><stop offset="0.80" stop-color="rgb(233,0,124)"/><stop offset="0.90" stop-color="rgb(248,0,103)"/><stop offset="1.00" stop-color="rgb(255,0,81)"/></linearGradient></defs>
<rect x="655.00" y="44.40" width="2.2" height="197.50" fill="url(#cb44)"/>
<text x="659.00" y="47.06" font-family="Liberation Sans" font-size="6" fill="#333" text-anchor="start" font-weight="normal" >High</text>
<text x="659.00" y="245.06" font-family="Liberation Sans" font-size="6" fill="#333" text-anchor="start" font-weight="normal" >Low</text>
<text transform="translate(674.70,144.40) rotate(-90)" x="0" y="2.34" font-family="Liberation Sans" font-size="6.5" fill="#333" text-anchor="middle">Feature value</text>
<line x1="432.00" y1="465.10" x2="640.00" y2="465.10" stroke="#e6e6e6" stroke-width="0.6" stroke-dasharray="1,3"/>
<line x1="432.00" y1="480.76" x2="640.00" y2="480.76" stroke="#e6e6e6" stroke-width="0.6" stroke-dasharray="1,3"/>
<line x1="432.00" y1="496.42" x2="640.00" y2="496.42" stroke="#e6e6e6" stroke-width="0.6" stroke-dasharray="1,3"/>
<line x1="432.00" y1="512.08" x2="640.00" y2="512.08" stroke="#e6e6e6" stroke-width="0.6" stroke-dasharray="1,3"/>
<line x1="432.00" y1="527.74" x2="640.00" y2="527.74" stroke="#e6e6e6" stroke-width="0.6" stroke-dasharray="1,3"/>
<line x1="432.00" y1="543.40" x2="640.00" y2="543.40" stroke="#e6e6e6" stroke-width="0.6" stroke-dasharray="1,3"/>
<line x1="432.00" y1="559.06" x2="640.00" y2="559.06" stroke="#e6e6e6" stroke-width="0.6" stroke-dasharray="1,3"/>
<line x1="505.80" y1="450.00" x2="505.80" y2="574.60" stroke="#999" stroke-width="0.9" />
<text x="418.14" y="468.02" font-family="Liberation Sans" font-size="7.0" fill="#444" text-anchor="start" font-weight="normal" textLength="10.9" lengthAdjust="spacingAndGlyphs" >ToA</text>
<circle cx="620.52" cy="465.10" r="1.2" fill="rgb(225,0,132)"/>
<circle cx="585.50" cy="464.40" r="1.2" fill="rgb(244,0,110)"/>
<circle cx="469.06" cy="465.10" r="1.2" fill="rgb(24,109,235)"/>
<circle cx="469.37" cy="466.51" r="1.2" fill="rgb(24,109,235)"/>
<circle cx="581.18" cy="465.10" r="1.2" fill="rgb(205,0,149)"/>
<circle cx="459.22" cy="465.10" r="1.2" fill="rgb(152,41,177)"/>
<circle cx="472.09" cy="465.80" r="1.2" fill="rgb(100,89,218)"/>
<circle cx="469.53" cy="462.99" r="1.2" fill="rgb(0,121,243)"/>
<circle cx="450.50" cy="465.10" r="1.2" fill="rgb(233,0,124)"/>
<circle cx="595.75" cy="465.80" r="1.2" fill="rgb(136,63,194)"/>
<circle cx="470.46" cy="465.80" r="1.2" fill="rgb(64,102,230)"/>
<circle cx="456.66" cy="465.10" r="1.2" fill="rgb(154,37,174)"/>
<circle cx="469.70" cy="469.33" r="1.2" fill="rgb(0,121,243)"/>
<circle cx="576.93" cy="465.10" r="1.2" fill="rgb(241,0,114)"/>
<circle cx="467.46" cy="463.69" r="1.2" fill="rgb(141,57,190)"/>
<circle cx="483.81" cy="465.10" r="1.2" fill="rgb(0,136,250)"/>
<circle cx="468.78" cy="463.69" r="1.2" fill="rgb(0,113,238)"/>
<circle cx="486.45" cy="465.10" r="1.2" fill="rgb(0,127,247)"/>
<circle cx="467.52" cy="465.80" r="1.2" fill="rgb(148,48,182)"/>
<circle cx="615.02" cy="465.10" r="1.2" fill="rgb(179,10,163)"/>
<circle cx="630.90" cy="465.80" r="1.2" fill="rgb(251,0,99)"/>
<circle cx="488.78" cy="465.10" r="1.2" fill="rgb(0,127,247)"/>
<circle cx="589.68" cy="465.80" r="1.2" fill="rgb(247,0,105)"/>
<circle cx="580.48" cy="465.80" r="1.2" fill="rgb(176,15,165)"/>
<circle cx="461.36" cy="465.10" r="1.2" fill="rgb(138,60,192)"/>
<circle cx="590.46" cy="465.10" r="1.2" fill="rgb(233,0,124)"/>
<circle cx="479.15" cy="465.10" r="1.2" fill="rgb(0,129,247)"/>
<circle cx="456.81" cy="465.80" r="1.2" fill="rgb(157,34,172)"/>
<circle cx="469.04" cy="465.80" r="1.2" fill="rgb(70,100,228)"/>
<circle cx="465.03" cy="465.10" r="1.2" fill="rgb(202,0,151)"/>
<circle cx="467.49" cy="466.51" r="1.2" fill="rgb(82,97,225)"/>
<circle cx="459.90" cy="465.80" r="1.2" fill="rgb(173,19,166)"/>
<circle cx="588.46" cy="465.10" r="1.2" fill="rgb(241,0,114)"/>
<circle cx="469.94" cy="467.92" r="1.2" fill="rgb(0,118,241)"/>
<circle cx="469.31" cy="462.28" r="1.2" fill="rgb(0,127,247)"/>
<circle cx="593.67" cy="465.10" r="1.2" fill="rgb(223,0,134)"/>
<circle cx="469.46" cy="461.58" r="1.2" fill="rgb(0,139,251)"/>
<circle cx="470.03" cy="460.87" r="1.2" fill="rgb(0,139,251)"/>
<circle cx="482.33" cy="464.40" r="1.2" fill="rgb(0,137,250)"/>
<circle cx="470.29" cy="462.28" r="1.2" fill="rgb(48,106,233)"/>
<circle cx="459.88" cy="464.40" r="1.2" fill="rgb(146,51,185)"/>
<circle cx="471.83" cy="466.51" r="1.2" fill="rgb(0,123,244)"/>
<circle cx="596.56" cy="466.51" r="1.2" fill="rgb(87,95,223)"/>
<circle cx="471.69" cy="464.40" r="1.2" fill="rgb(0,116,240)"/>
<circle cx="492.03" cy="465.10" r="1.2" fill="rgb(0,132,248)"/>
<circle cx="463.67" cy="466.51" r="1.2" fill="rgb(152,41,177)"/>
<circle cx="463.14" cy="465.10" r="1.2" fill="rgb(133,66,197)"/>
<circle cx="463.31" cy="467.21" r="1.2" fill="rgb(188,0,159)"/>
<circle cx="630.85" cy="465.10" r="1.2" fill="rgb(254,0,92)"/>
<circle cx="463.17" cy="463.69" r="1.2" fill="rgb(173,19,166)"/>
<circle cx="467.27" cy="464.40" r="1.2" fill="rgb(76,99,227)"/>
<circle cx="585.00" cy="465.10" r="1.2" fill="rgb(253,0,95)"/>
<circle cx="469.32" cy="462.99" r="1.2" fill="rgb(0,127,247)"/>
<circle cx="465.18" cy="465.80" r="1.2" fill="rgb(170,23,167)"/>
<circle cx="469.74" cy="468.62" r="1.2" fill="rgb(0,115,239)"/>
<circle cx="556.28" cy="465.10" r="1.2" fill="rgb(247,0,105)"/>
<circle cx="466.56" cy="465.10" r="1.2" fill="rgb(143,54,187)"/>
<circle cx="566.83" cy="465.10" r="1.2" fill="rgb(244,0,110)"/>
<circle cx="470.01" cy="464.40" r="1.2" fill="rgb(0,118,241)"/>
<circle cx="468.21" cy="467.21" r="1.2" fill="rgb(138,60,192)"/>
<circle cx="469.93" cy="463.69" r="1.2" fill="rgb(0,134,250)"/>
<circle cx="600.29" cy="464.40" r="1.2" fill="rgb(238,0,118)"/>
<circle cx="463.79" cy="464.40" r="1.2" fill="rgb(202,0,151)"/>
<circle cx="600.59" cy="465.80" r="1.2" fill="rgb(240,0,116)"/>
<circle cx="487.88" cy="465.80" r="1.2" fill="rgb(0,133,249)"/>
<circle cx="469.84" cy="470.03" r="1.2" fill="rgb(0,130,248)"/>
<circle cx="469.07" cy="467.92" r="1.2" fill="rgb(127,71,201)"/>
<circle cx="457.01" cy="465.10" r="1.2" fill="rgb(148,48,182)"/>
<circle cx="585.51" cy="466.51" r="1.2" fill="rgb(247,0,105)"/>
<circle cx="470.01" cy="465.10" r="1.2" fill="rgb(0,134,250)"/>
<circle cx="593.48" cy="465.80" r="1.2" fill="rgb(197,0,154)"/>
<circle cx="463.92" cy="462.99" r="1.2" fill="rgb(154,37,174)"/>
<circle cx="574.63" cy="465.10" r="1.2" fill="rgb(236,0,120)"/>
<circle cx="471.84" cy="465.10" r="1.2" fill="rgb(0,111,237)"/>
<circle cx="482.76" cy="465.80" r="1.2" fill="rgb(0,139,251)"/>
<circle cx="597.09" cy="464.40" r="1.2" fill="rgb(225,0,132)"/>
<circle cx="589.44" cy="465.10" r="1.2" fill="rgb(236,0,120)"/>
<circle cx="469.46" cy="467.21" r="1.2" fill="rgb(0,130,248)"/>
<circle cx="605.38" cy="465.10" r="1.2" fill="rgb(251,0,99)"/>
<circle cx="469.51" cy="466.51" r="1.2" fill="rgb(0,118,241)"/>
<circle cx="460.70" cy="465.80" r="1.2" fill="rgb(148,48,182)"/>
<circle cx="462.78" cy="465.80" r="1.2" fill="rgb(176,15,165)"/>
<circle cx="597.29" cy="465.10" r="1.2" fill="rgb(238,0,118)"/>
<circle cx="596.15" cy="463.69" r="1.2" fill="rgb(136,63,194)"/>
<circle cx="479.64" cy="465.80" r="1.2" fill="rgb(0,134,250)"/>
<circle cx="468.73" cy="464.40" r="1.2" fill="rgb(152,41,177)"/>
<circle cx="600.62" cy="465.10" r="1.2" fill="rgb(229,0,128)"/>
<circle cx="585.65" cy="465.80" r="1.2" fill="rgb(246,0,108)"/>
<text x="423.05" y="483.68" font-family="Liberation Sans" font-size="7.0" fill="#444" text-anchor="start" font-weight="normal" textLength="6.0" lengthAdjust="spacingAndGlyphs" >PI</text>
<circle cx="502.21" cy="480.20" r="1.2" fill="rgb(0,139,251)"/>
<circle cx="593.91" cy="480.76" r="1.2" fill="rgb(0,139,251)"/>
<circle cx="533.33" cy="480.76" r="1.2" fill="rgb(0,139,251)"/>
<circle cx="493.74" cy="476.81" r="1.2" fill="rgb(236,0,120)"/>
<circle cx="514.98" cy="480.76" r="1.2" fill="rgb(0,133,249)"/>
<circle cx="494.46" cy="478.50" r="1.2" fill="rgb(212,0,144)"/>
<circle cx="505.30" cy="480.76" r="1.2" fill="rgb(0,124,245)"/>
<circle cx="497.52" cy="481.32" r="1.2" fill="rgb(152,41,177)"/>
<circle cx="528.34" cy="480.76" r="1.2" fill="rgb(0,134,250)"/>
<circle cx="509.19" cy="480.76" r="1.2" fill="rgb(0,137,250)"/>
<circle cx="509.01" cy="480.20" r="1.2" fill="rgb(0,116,240)"/>
<circle cx="555.82" cy="480.76" r="1.2" fill="rgb(0,139,251)"/>
<circle cx="504.63" cy="481.32" r="1.2" fill="rgb(104,87,216)"/>
<circle cx="508.89" cy="480.76" r="1.2" fill="rgb(0,123,244)"/>
<circle cx="494.95" cy="480.76" r="1.2" fill="rgb(241,0,114)"/>
<circle cx="494.07" cy="483.02" r="1.2" fill="rgb(231,0,126)"/>
<circle cx="538.84" cy="480.76" r="1.2" fill="rgb(0,123,244)"/>
<circle cx="494.35" cy="484.71" r="1.2" fill="rgb(214,0,142)"/>
<circle cx="498.74" cy="481.32" r="1.2" fill="rgb(133,66,197)"/>
<circle cx="576.47" cy="480.76" r="1.2" fill="rgb(0,132,248)"/>
<circle cx="494.35" cy="480.76" r="1.2" fill="rgb(233,0,124)"/>
<circle cx="501.49" cy="481.32" r="1.2" fill="rgb(0,127,247)"/>
<circle cx="483.08" cy="480.76" r="1.2" fill="rgb(219,0,138)"/>
<circle cx="494.23" cy="485.27" r="1.2" fill="rgb(225,0,132)"/>
<circle cx="494.40" cy="479.07" r="1.2" fill="rgb(229,0,128)"/>
<circle cx="500.53" cy="480.76" r="1.2" fill="rgb(133,66,197)"/>
<circle cx="529.68" cy="480.76" r="1.2" fill="rgb(0,133,249)"/>
<circle cx="503.71" cy="480.20" r="1.2" fill="rgb(104,87,216)"/>
<circle cx="493.48" cy="480.76" r="1.2" fill="rgb(225,0,132)"/>
<circle cx="494.68" cy="483.58" r="1.2" fill="rgb(225,0,132)"/>
<circle cx="494.82" cy="482.45" r="1.2" fill="rgb(223,0,134)"/>
<circle cx="497.02" cy="480.20" r="1.2" fill="rgb(100,89,218)"/>
<circle cx="494.64" cy="481.89" r="1.2" fill="rgb(227,0,130)"/>
<circle cx="494.99" cy="479.63" r="1.2" fill="rgb(238,0,118)"/>
<circle cx="496.31" cy="480.76" r="1.2" fill="rgb(91,93,221)"/>
<circle cx="494.29" cy="480.20" r="1.2" fill="rgb(221,0,136)"/>
<circle cx="495.31" cy="479.07" r="1.2" fill="rgb(229,0,128)"/>
<circle cx="518.19" cy="480.76" r="1.2" fill="rgb(0,139,251)"/>
<circle cx="502.61" cy="481.32" r="1.2" fill="rgb(0,115,239)"/>
<circle cx="502.50" cy="480.76" r="1.2" fill="rgb(111,82,212)"/>
<circle cx="507.99" cy="480.76" r="1.2" fill="rgb(0,126,246)"/>
<circle cx="498.18" cy="480.76" r="1.2" fill="rgb(163,29,170)"/>
<circle cx="504.75" cy="480.20" r="1.2" fill="rgb(0,133,249)"/>
<circle cx="497.37" cy="480.76" r="1.2" fill="rgb(185,0,160)"/>
<circle cx="502.64" cy="480.20" r="1.2" fill="rgb(0,111,237)"/>
<circle cx="494.21" cy="479.63" r="1.2" fill="rgb(223,0,134)"/>
<circle cx="494.32" cy="484.14" r="1.2" fill="rgb(251,0,99)"/>
<circle cx="494.64" cy="485.83" r="1.2" fill="rgb(212,0,144)"/>
<circle cx="511.77" cy="480.76" r="1.2" fill="rgb(0,126,246)"/>
<circle cx="504.18" cy="480.76" r="1.2" fill="rgb(24,109,235)"/>
<circle cx="500.06" cy="480.76" r="1.2" fill="rgb(133,66,197)"/>
<circle cx="521.40" cy="480.76" r="1.2" fill="rgb(0,121,243)"/>
<circle cx="494.04" cy="477.94" r="1.2" fill="rgb(235,0,122)"/>
<circle cx="494.36" cy="481.32" r="1.2" fill="rgb(235,0,122)"/>
<circle cx="587.03" cy="480.76" r="1.2" fill="rgb(0,123,244)"/>
<circle cx="494.27" cy="482.45" r="1.2" fill="rgb(214,0,142)"/>
<circle cx="493.90" cy="477.38" r="1.2" fill="rgb(223,0,134)"/>
<circle cx="494.81" cy="481.32" r="1.2" fill="rgb(212,0,144)"/>
<circle cx="508.74" cy="481.89" r="1.2" fill="rgb(24,109,235)"/>
<circle cx="502.01" cy="481.89" r="1.2" fill="rgb(115,80,210)"/>
<circle cx="508.72" cy="481.32" r="1.2" fill="rgb(121,76,206)"/>
<circle cx="504.98" cy="481.32" r="1.2" fill="rgb(0,111,237)"/>
<circle cx="494.86" cy="481.89" r="1.2" fill="rgb(223,0,134)"/>
<circle cx="494.58" cy="476.25" r="1.2" fill="rgb(207,0,147)"/>
<circle cx="562.70" cy="480.76" r="1.2" fill="rgb(0,139,251)"/>
<circle cx="502.43" cy="480.76" r="1.2" fill="rgb(115,80,210)"/>
<circle cx="495.50" cy="480.20" r="1.2" fill="rgb(238,0,118)"/>
<circle cx="488.82" cy="480.76" r="1.2" fill="rgb(214,0,142)"/>
<circle cx="525.07" cy="480.76" r="1.2" fill="rgb(0,132,248)"/>
<text x="421.29" y="499.34" font-family="Liberation Sans" font-size="7.0" fill="#444" text-anchor="start" font-weight="normal" textLength="7.7" lengthAdjust="spacingAndGlyphs" >PL</text>
<circle cx="502.06" cy="495.61" r="1.2" fill="rgb(0,111,237)"/>
<circle cx="501.80" cy="497.23" r="1.2" fill="rgb(57,104,231)"/>
<circle cx="502.60" cy="498.03" r="1.2" fill="rgb(64,102,230)"/>
<circle cx="499.65" cy="496.42" r="1.2" fill="rgb(0,127,247)"/>
<circle cx="508.84" cy="496.42" r="1.2" fill="rgb(214,0,142)"/>
<circle cx="502.15" cy="492.39" r="1.2" fill="rgb(0,119,242)"/>
<circle cx="506.57" cy="496.42" r="1.2" fill="rgb(212,0,144)"/>
<circle cx="512.24" cy="496.42" r="1.2" fill="rgb(238,0,118)"/>
<circle cx="498.73" cy="496.42" r="1.2" fill="rgb(0,124,245)"/>
<circle cx="502.30" cy="500.45" r="1.2" fill="rgb(0,124,245)"/>
<circle cx="502.27" cy="491.59" r="1.2" fill="rgb(0,139,251)"/>
<circle cx="502.24" cy="498.84" r="1.2" fill="rgb(0,115,239)"/>
<circle cx="502.66" cy="495.61" r="1.2" fill="rgb(0,129,247)"/>
<circle cx="506.81" cy="496.42" r="1.2" fill="rgb(229,0,128)"/>
<circle cx="501.59" cy="496.42" r="1.2" fill="rgb(0,137,250)"/>
<circle cx="513.60" cy="496.42" r="1.2" fill="rgb(251,0,99)"/>
<circle cx="505.45" cy="497.23" r="1.2" fill="rgb(167,26,169)"/>
<circle cx="537.46" cy="496.42" r="1.2" fill="rgb(250,0,101)"/>
<circle cx="502.01" cy="501.25" r="1.2" fill="rgb(0,115,239)"/>
<circle cx="501.73" cy="496.42" r="1.2" fill="rgb(48,106,233)"/>
<circle cx="532.83" cy="496.42" r="1.2" fill="rgb(241,0,114)"/>
<circle cx="501.83" cy="498.03" r="1.2" fill="rgb(0,124,245)"/>
<circle cx="502.02" cy="494.00" r="1.2" fill="rgb(0,111,237)"/>
<circle cx="504.81" cy="496.42" r="1.2" fill="rgb(136,63,194)"/>
<circle cx="502.64" cy="497.23" r="1.2" fill="rgb(0,115,239)"/>
<circle cx="501.96" cy="498.84" r="1.2" fill="rgb(0,115,239)"/>
<circle cx="501.79" cy="495.61" r="1.2" fill="rgb(76,99,227)"/>
<circle cx="502.29" cy="499.64" r="1.2" fill="rgb(0,119,242)"/>
<circle cx="498.29" cy="496.42" r="1.2" fill="rgb(0,118,241)"/>
<circle cx="502.19" cy="496.42" r="1.2" fill="rgb(70,100,228)"/>
<circle cx="502.04" cy="497.23" r="1.2" fill="rgb(87,95,223)"/>
<circle cx="505.30" cy="496.42" r="1.2" fill="rgb(163,29,170)"/>
<circle cx="501.92" cy="494.00" r="1.2" fill="rgb(0,123,244)"/>
<circle cx="502.18" cy="498.03" r="1.2" fill="rgb(0,121,243)"/>
<circle cx="502.10" cy="494.81" r="1.2" fill="rgb(0,139,251)"/>
<circle cx="503.93" cy="496.42" r="1.2" fill="rgb(0,111,237)"/>
<circle cx="506.69" cy="497.23" r="1.2" fill="rgb(229,0,128)"/>
<circle cx="503.74" cy="497.23" r="1.2" fill="rgb(130,68,199)"/>
<circle cx="500.06" cy="496.42" r="1.2" fill="rgb(0,126,246)"/>
<circle cx="507.65" cy="496.42" r="1.2" fill="rgb(212,0,144)"/>
<circle cx="502.60" cy="496.42" r="1.2" fill="rgb(64,102,230)"/>
<circle cx="529.66" cy="496.42" r="1.2" fill="rgb(250,0,101)"/>
<circle cx="508.25" cy="496.42" r="1.2" fill="rgb(225,0,132)"/>
<circle cx="534.64" cy="496.42" r="1.2" fill="rgb(236,0,120)"/>
<circle cx="502.35" cy="493.20" r="1.2" fill="rgb(0,132,248)"/>
<circle cx="508.12" cy="497.23" r="1.2" fill="rgb(236,0,120)"/>
<circle cx="510.10" cy="496.42" r="1.2" fill="rgb(227,0,130)"/>
<circle cx="501.14" cy="496.42" r="1.2" fill="rgb(48,106,233)"/>
<circle cx="503.78" cy="495.61" r="1.2" fill="rgb(115,80,210)"/>
<circle cx="510.49" cy="496.42" r="1.2" fill="rgb(219,0,138)"/>
<circle cx="501.78" cy="494.81" r="1.2" fill="rgb(100,89,218)"/>
<text x="419.55" y="515.00" font-family="Liberation Sans" font-size="7.0" fill="#444" text-anchor="start" font-weight="normal" textLength="9.5" lengthAdjust="spacingAndGlyphs" >SM</text>
<circle cx="505.65" cy="514.90" r="1.2" fill="rgb(0,113,238)"/>
<circle cx="510.18" cy="510.67" r="1.2" fill="rgb(229,0,128)"/>
<circle cx="510.19" cy="512.08" r="1.2" fill="rgb(199,0,152)"/>
<circle cx="510.26" cy="513.49" r="1.2" fill="rgb(227,0,130)"/>
<circle cx="510.99" cy="512.08" r="1.2" fill="rgb(219,0,138)"/>
<circle cx="515.42" cy="512.08" r="1.2" fill="rgb(240,0,116)"/>
<circle cx="490.38" cy="512.08" r="1.2" fill="rgb(0,123,244)"/>
<circle cx="515.22" cy="513.49" r="1.2" fill="rgb(221,0,136)"/>
<circle cx="510.72" cy="507.85" r="1.2" fill="rgb(229,0,128)"/>
<circle cx="509.79" cy="512.08" r="1.2" fill="rgb(185,0,160)"/>
<circle cx="510.93" cy="510.67" r="1.2" fill="rgb(217,0,140)"/>
<circle cx="503.57" cy="512.08" r="1.2" fill="rgb(0,123,244)"/>
<circle cx="505.16" cy="512.08" r="1.2" fill="rgb(0,116,240)"/>
<circle cx="503.95" cy="510.67" r="1.2" fill="rgb(0,134,250)"/>
<circle cx="509.72" cy="510.67" r="1.2" fill="rgb(227,0,130)"/>
<circle cx="509.72" cy="512.08" r="1.2" fill="rgb(199,0,152)"/>
<circle cx="503.98" cy="513.49" r="1.2" fill="rgb(0,121,243)"/>
<circle cx="513.96" cy="512.08" r="1.2" fill="rgb(217,0,140)"/>
<circle cx="511.12" cy="512.08" r="1.2" fill="rgb(209,0,145)"/>
<circle cx="505.14" cy="509.26" r="1.2" fill="rgb(0,119,242)"/>
<circle cx="505.27" cy="514.90" r="1.2" fill="rgb(0,119,242)"/>
<circle cx="499.10" cy="512.08" r="1.2" fill="rgb(148,48,182)"/>
<circle cx="510.57" cy="514.90" r="1.2" fill="rgb(212,0,144)"/>
<circle cx="506.35" cy="513.49" r="1.2" fill="rgb(0,113,238)"/>
<circle cx="506.30" cy="512.08" r="1.2" fill="rgb(48,106,233)"/>
<circle cx="504.45" cy="512.08" r="1.2" fill="rgb(0,136,250)"/>
<circle cx="502.37" cy="512.08" r="1.2" fill="rgb(76,99,227)"/>
<circle cx="509.50" cy="512.08" r="1.2" fill="rgb(227,0,130)"/>
<circle cx="510.98" cy="513.49" r="1.2" fill="rgb(217,0,140)"/>
<circle cx="503.89" cy="512.08" r="1.2" fill="rgb(0,127,247)"/>
<circle cx="510.62" cy="509.26" r="1.2" fill="rgb(212,0,144)"/>
<circle cx="510.29" cy="512.08" r="1.2" fill="rgb(202,0,151)"/>
<circle cx="505.64" cy="513.49" r="1.2" fill="rgb(0,119,242)"/>
<circle cx="509.40" cy="513.49" r="1.2" fill="rgb(209,0,145)"/>
<circle cx="505.03" cy="510.67" r="1.2" fill="rgb(24,109,235)"/>
<circle cx="510.50" cy="513.49" r="1.2" fill="rgb(207,0,147)"/>
<circle cx="504.77" cy="512.08" r="1.2" fill="rgb(0,126,246)"/>
<circle cx="510.68" cy="510.67" r="1.2" fill="rgb(188,0,159)"/>
<circle cx="505.53" cy="512.08" r="1.2" fill="rgb(24,109,235)"/>
<circle cx="501.66" cy="512.08" r="1.2" fill="rgb(70,100,228)"/>
<circle cx="504.35" cy="513.49" r="1.2" fill="rgb(24,109,235)"/>
<circle cx="509.22" cy="512.08" r="1.2" fill="rgb(219,0,138)"/>
<circle cx="505.60" cy="510.67" r="1.2" fill="rgb(57,104,231)"/>
<circle cx="506.03" cy="512.08" r="1.2" fill="rgb(0,111,237)"/>
<circle cx="510.57" cy="516.31" r="1.2" fill="rgb(219,0,138)"/>
<circle cx="503.35" cy="512.08" r="1.2" fill="rgb(0,119,242)"/>
<circle cx="514.49" cy="512.08" r="1.2" fill="rgb(227,0,130)"/>
<circle cx="504.23" cy="512.08" r="1.2" fill="rgb(0,123,244)"/>
<circle cx="510.54" cy="513.49" r="1.2" fill="rgb(199,0,152)"/>
<circle cx="503.70" cy="513.49" r="1.2" fill="rgb(0,139,251)"/>
<circle cx="503.17" cy="513.49" r="1.2" fill="rgb(0,111,237)"/>
<circle cx="503.26" cy="512.08" r="1.2" fill="rgb(0,119,242)"/>
<circle cx="500.84" cy="512.08" r="1.2" fill="rgb(48,106,233)"/>
<circle cx="509.60" cy="513.49" r="1.2" fill="rgb(214,0,142)"/>
<circle cx="505.03" cy="512.08" r="1.2" fill="rgb(0,139,251)"/>
<circle cx="512.99" cy="512.08" r="1.2" fill="rgb(236,0,120)"/>
<circle cx="505.13" cy="513.49" r="1.2" fill="rgb(0,130,248)"/>
<circle cx="504.63" cy="513.49" r="1.2" fill="rgb(0,137,250)"/>
<circle cx="509.79" cy="513.49" r="1.2" fill="rgb(199,0,152)"/>
<circle cx="507.27" cy="512.08" r="1.2" fill="rgb(0,123,244)"/>
<circle cx="510.63" cy="512.08" r="1.2" fill="rgb(199,0,152)"/>
<circle cx="515.23" cy="512.08" r="1.2" fill="rgb(212,0,144)"/>
<text x="414.65" y="530.66" font-family="Liberation Sans" font-size="7.0" fill="#444" text-anchor="start" font-weight="normal" textLength="14.3" lengthAdjust="spacingAndGlyphs" >MDD</text>
<circle cx="507.76" cy="529.62" r="1.2" fill="rgb(221,0,136)"/>
<circle cx="503.77" cy="525.86" r="1.2" fill="rgb(0,113,238)"/>
<circle cx="502.70" cy="527.74" r="1.2" fill="rgb(0,119,242)"/>
<circle cx="508.30" cy="525.86" r="1.2" fill="rgb(205,0,149)"/>
<circle cx="511.68" cy="525.86" r="1.2" fill="rgb(197,0,154)"/>
<circle cx="508.41" cy="529.62" r="1.2" fill="rgb(223,0,134)"/>
<circle cx="506.68" cy="525.86" r="1.2" fill="rgb(202,0,151)"/>
<circle cx="507.88" cy="527.74" r="1.2" fill="rgb(212,0,144)"/>
<circle cx="499.86" cy="527.74" r="1.2" fill="rgb(0,116,240)"/>
<circle cx="503.53" cy="529.62" r="1.2" fill="rgb(0,115,239)"/>
<circle cx="502.89" cy="531.50" r="1.2" fill="rgb(0,127,247)"/>
<circle cx="503.49" cy="527.74" r="1.2" fill="rgb(0,121,243)"/>
<circle cx="509.77" cy="527.74" r="1.2" fill="rgb(231,0,126)"/>
<circle cx="502.08" cy="527.74" r="1.2" fill="rgb(0,123,244)"/>
<circle cx="511.58" cy="529.62" r="1.2" fill="rgb(185,0,160)"/>
<circle cx="502.34" cy="527.74" r="1.2" fill="rgb(0,124,245)"/>
<circle cx="500.46" cy="527.74" r="1.2" fill="rgb(0,139,251)"/>
<circle cx="509.36" cy="527.74" r="1.2" fill="rgb(182,4,162)"/>
<circle cx="502.53" cy="527.74" r="1.2" fill="rgb(0,111,237)"/>
<circle cx="508.19" cy="527.74" r="1.2" fill="rgb(199,0,152)"/>
<circle cx="501.72" cy="527.74" r="1.2" fill="rgb(0,126,246)"/>
<circle cx="505.29" cy="529.62" r="1.2" fill="rgb(87,95,223)"/>
<circle cx="503.84" cy="531.50" r="1.2" fill="rgb(24,109,235)"/>
<circle cx="497.48" cy="527.74" r="1.2" fill="rgb(0,132,248)"/>
<circle cx="505.34" cy="527.74" r="1.2" fill="rgb(0,111,237)"/>
<circle cx="508.50" cy="527.74" r="1.2" fill="rgb(209,0,145)"/>
<circle cx="514.98" cy="527.74" r="1.2" fill="rgb(0,136,250)"/>
<circle cx="508.53" cy="529.62" r="1.2" fill="rgb(227,0,130)"/>
<circle cx="511.68" cy="527.74" r="1.2" fill="rgb(217,0,140)"/>
<circle cx="509.20" cy="527.74" r="1.2" fill="rgb(221,0,136)"/>
<circle cx="503.10" cy="527.74" r="1.2" fill="rgb(24,109,235)"/>
<circle cx="503.24" cy="527.74" r="1.2" fill="rgb(0,124,245)"/>
<circle cx="511.42" cy="527.74" r="1.2" fill="rgb(173,19,166)"/>
<circle cx="502.82" cy="529.62" r="1.2" fill="rgb(0,115,239)"/>
<circle cx="506.72" cy="529.62" r="1.2" fill="rgb(233,0,124)"/>
<circle cx="502.17" cy="527.74" r="1.2" fill="rgb(0,119,242)"/>
<circle cx="505.37" cy="525.86" r="1.2" fill="rgb(127,71,201)"/>
<circle cx="508.71" cy="529.62" r="1.2" fill="rgb(209,0,145)"/>
<circle cx="508.00" cy="527.74" r="1.2" fill="rgb(231,0,126)"/>
<circle cx="503.76" cy="527.74" r="1.2" fill="rgb(0,115,239)"/>
<circle cx="505.87" cy="527.74" r="1.2" fill="rgb(115,80,210)"/>
<circle cx="503.18" cy="525.86" r="1.2" fill="rgb(0,118,241)"/>
<circle cx="497.51" cy="529.62" r="1.2" fill="rgb(0,130,248)"/>
<circle cx="506.82" cy="527.74" r="1.2" fill="rgb(225,0,132)"/>
<circle cx="505.70" cy="527.74" r="1.2" fill="rgb(87,95,223)"/>
<circle cx="508.64" cy="527.74" r="1.2" fill="rgb(219,0,138)"/>
<circle cx="498.02" cy="527.74" r="1.2" fill="rgb(57,104,231)"/>
<circle cx="503.93" cy="527.74" r="1.2" fill="rgb(0,119,242)"/>
<circle cx="502.98" cy="525.86" r="1.2" fill="rgb(0,113,238)"/>
<circle cx="507.39" cy="527.74" r="1.2" fill="rgb(219,0,138)"/>
<circle cx="507.54" cy="527.74" r="1.2" fill="rgb(217,0,140)"/>
<circle cx="503.33" cy="529.62" r="1.2" fill="rgb(0,124,245)"/>
<circle cx="508.33" cy="527.74" r="1.2" fill="rgb(182,4,162)"/>
<circle cx="507.62" cy="529.62" r="1.2" fill="rgb(217,0,140)"/>
<circle cx="507.06" cy="527.74" r="1.2" fill="rgb(214,0,142)"/>
<circle cx="503.53" cy="527.74" r="1.2" fill="rgb(0,127,247)"/>
<circle cx="503.86" cy="529.62" r="1.2" fill="rgb(0,115,239)"/>
<circle cx="504.24" cy="527.74" r="1.2" fill="rgb(0,119,242)"/>
<circle cx="502.87" cy="527.74" r="1.2" fill="rgb(0,129,247)"/>
<circle cx="508.39" cy="531.50" r="1.2" fill="rgb(207,0,147)"/>
<text x="414.30" y="546.32" font-family="Liberation Sans" font-size="7.0" fill="#444" text-anchor="start" font-weight="normal" textLength="14.7" lengthAdjust="spacingAndGlyphs" >OMC</text>
<circle cx="505.15" cy="544.81" r="1.2" fill="rgb(225,0,132)"/>
<circle cx="507.72" cy="543.40" r="1.2" fill="rgb(240,0,116)"/>
<circle cx="505.07" cy="541.99" r="1.2" fill="rgb(0,123,244)"/>
<circle cx="505.44" cy="543.40" r="1.2" fill="rgb(0,118,241)"/>
<circle cx="505.72" cy="541.99" r="1.2" fill="rgb(0,111,237)"/>
<circle cx="504.37" cy="543.40" r="1.2" fill="rgb(0,126,246)"/>
<circle cx="506.26" cy="544.81" r="1.2" fill="rgb(221,0,136)"/>
<circle cx="506.37" cy="541.99" r="1.2" fill="rgb(225,0,132)"/>
<circle cx="505.13" cy="540.58" r="1.2" fill="rgb(0,132,248)"/>
<circle cx="506.19" cy="546.22" r="1.2" fill="rgb(0,121,243)"/>
<circle cx="506.74" cy="543.40" r="1.2" fill="rgb(235,0,122)"/>
<circle cx="512.39" cy="543.40" r="1.2" fill="rgb(229,0,128)"/>
<circle cx="505.73" cy="543.40" r="1.2" fill="rgb(219,0,138)"/>
<circle cx="508.20" cy="543.40" r="1.2" fill="rgb(235,0,122)"/>
<circle cx="504.86" cy="546.22" r="1.2" fill="rgb(0,113,238)"/>
<circle cx="511.43" cy="544.81" r="1.2" fill="rgb(235,0,122)"/>
<circle cx="508.92" cy="543.40" r="1.2" fill="rgb(221,0,136)"/>
<circle cx="502.48" cy="543.40" r="1.2" fill="rgb(141,57,190)"/>
<circle cx="508.88" cy="546.22" r="1.2" fill="rgb(219,0,138)"/>
<circle cx="506.85" cy="544.81" r="1.2" fill="rgb(240,0,116)"/>
<circle cx="503.82" cy="543.40" r="1.2" fill="rgb(0,116,240)"/>
<circle cx="509.20" cy="543.40" r="1.2" fill="rgb(221,0,136)"/>
<circle cx="507.35" cy="541.99" r="1.2" fill="rgb(223,0,134)"/>
<circle cx="505.10" cy="543.40" r="1.2" fill="rgb(0,113,238)"/>
<circle cx="505.93" cy="543.40" r="1.2" fill="rgb(0,132,248)"/>
<circle cx="505.55" cy="544.81" r="1.2" fill="rgb(0,113,238)"/>
<circle cx="498.69" cy="543.40" r="1.2" fill="rgb(170,23,167)"/>
<circle cx="507.31" cy="544.81" r="1.2" fill="rgb(225,0,132)"/>
<circle cx="504.44" cy="544.81" r="1.2" fill="rgb(221,0,136)"/>
<circle cx="501.19" cy="543.40" r="1.2" fill="rgb(141,57,190)"/>
<circle cx="504.61" cy="541.99" r="1.2" fill="rgb(0,137,250)"/>
<circle cx="508.14" cy="544.81" r="1.2" fill="rgb(240,0,116)"/>
<circle cx="505.06" cy="546.22" r="1.2" fill="rgb(0,115,239)"/>
<circle cx="506.00" cy="544.81" r="1.2" fill="rgb(0,123,244)"/>
<circle cx="511.25" cy="543.40" r="1.2" fill="rgb(246,0,108)"/>
<circle cx="505.18" cy="547.63" r="1.2" fill="rgb(0,124,245)"/>
<circle cx="511.49" cy="543.40" r="1.2" fill="rgb(225,0,132)"/>
<circle cx="505.05" cy="543.40" r="1.2" fill="rgb(0,121,243)"/>
<circle cx="508.42" cy="543.40" r="1.2" fill="rgb(241,0,114)"/>
<circle cx="508.36" cy="541.99" r="1.2" fill="rgb(227,0,130)"/>
<circle cx="504.82" cy="544.81" r="1.2" fill="rgb(24,109,235)"/>
<circle cx="506.37" cy="543.40" r="1.2" fill="rgb(238,0,118)"/>
<circle cx="484.69" cy="543.40" r="1.2" fill="rgb(240,0,116)"/>
<circle cx="508.78" cy="544.81" r="1.2" fill="rgb(225,0,132)"/>
<circle cx="507.37" cy="543.40" r="1.2" fill="rgb(243,0,112)"/>
<circle cx="508.31" cy="546.22" r="1.2" fill="rgb(221,0,136)"/>
<circle cx="505.65" cy="544.81" r="1.2" fill="rgb(0,123,244)"/>
<circle cx="508.66" cy="541.99" r="1.2" fill="rgb(217,0,140)"/>
<circle cx="505.50" cy="541.99" r="1.2" fill="rgb(0,116,240)"/>
<circle cx="504.62" cy="544.81" r="1.2" fill="rgb(0,123,244)"/>
<circle cx="505.04" cy="541.99" r="1.2" fill="rgb(0,133,249)"/>
<circle cx="504.75" cy="543.40" r="1.2" fill="rgb(0,129,247)"/>
<text x="421.99" y="561.98" font-family="Liberation Sans" font-size="7.0" fill="#444" text-anchor="start" font-weight="normal" textLength="7.0" lengthAdjust="spacingAndGlyphs" >LL</text>
<circle cx="506.07" cy="561.88" r="1.2" fill="rgb(127,71,201)"/>
<circle cx="502.93" cy="559.06" r="1.2" fill="rgb(152,41,177)"/>
<circle cx="506.04" cy="556.24" r="1.2" fill="rgb(115,80,210)"/>
<circle cx="504.28" cy="559.06" r="1.2" fill="rgb(115,80,210)"/>
<circle cx="508.93" cy="559.06" r="1.2" fill="rgb(0,118,241)"/>
<circle cx="506.14" cy="563.29" r="1.2" fill="rgb(141,57,190)"/>
<circle cx="505.37" cy="559.06" r="1.2" fill="rgb(176,15,165)"/>
<circle cx="504.11" cy="559.06" r="1.2" fill="rgb(197,0,154)"/>
<circle cx="505.69" cy="559.06" r="1.2" fill="rgb(163,29,170)"/>
<circle cx="506.17" cy="556.24" r="1.2" fill="rgb(185,0,160)"/>
<circle cx="505.15" cy="559.06" r="1.2" fill="rgb(136,63,194)"/>
<circle cx="512.36" cy="559.06" r="1.2" fill="rgb(157,34,172)"/>
<circle cx="505.50" cy="559.06" r="1.2" fill="rgb(197,0,154)"/>
<circle cx="506.17" cy="557.65" r="1.2" fill="rgb(197,0,154)"/>
<circle cx="506.04" cy="559.06" r="1.2" fill="rgb(121,76,206)"/>
<circle cx="500.36" cy="559.06" r="1.2" fill="rgb(143,54,187)"/>
<circle cx="498.40" cy="559.06" r="1.2" fill="rgb(154,37,174)"/>
<circle cx="505.80" cy="559.06" r="1.2" fill="rgb(167,26,169)"/>
<circle cx="506.31" cy="559.06" r="1.2" fill="rgb(82,97,225)"/>
<circle cx="507.87" cy="559.06" r="1.2" fill="rgb(100,89,218)"/>
<circle cx="506.24" cy="563.29" r="1.2" fill="rgb(121,76,206)"/>
<circle cx="511.59" cy="559.06" r="1.2" fill="rgb(154,37,174)"/>
<circle cx="508.19" cy="559.06" r="1.2" fill="rgb(48,106,233)"/>
<circle cx="506.10" cy="557.65" r="1.2" fill="rgb(121,76,206)"/>
<circle cx="506.16" cy="561.88" r="1.2" fill="rgb(146,51,185)"/>
<circle cx="502.92" cy="560.47" r="1.2" fill="rgb(115,80,210)"/>
<circle cx="506.26" cy="560.47" r="1.2" fill="rgb(199,0,152)"/>
<circle cx="505.98" cy="559.06" r="1.2" fill="rgb(96,91,220)"/>
<circle cx="506.11" cy="560.47" r="1.2" fill="rgb(0,118,241)"/>
<circle cx="503.37" cy="559.06" r="1.2" fill="rgb(231,0,126)"/>
<circle cx="505.07" cy="560.47" r="1.2" fill="rgb(136,63,194)"/>
<circle cx="500.44" cy="559.06" r="1.2" fill="rgb(173,19,166)"/>
<circle cx="506.00" cy="557.65" r="1.2" fill="rgb(170,23,167)"/>
<circle cx="506.15" cy="559.06" r="1.2" fill="rgb(96,91,220)"/>
<circle cx="506.01" cy="554.83" r="1.2" fill="rgb(0,118,241)"/>
<circle cx="507.50" cy="559.06" r="1.2" fill="rgb(154,37,174)"/>
<circle cx="505.80" cy="560.47" r="1.2" fill="rgb(70,100,228)"/>
<circle cx="505.91" cy="560.47" r="1.2" fill="rgb(100,89,218)"/>
<circle cx="505.08" cy="557.65" r="1.2" fill="rgb(152,41,177)"/>
<circle cx="509.87" cy="559.06" r="1.2" fill="rgb(121,76,206)"/>
<circle cx="508.05" cy="559.06" r="1.2" fill="rgb(0,115,239)"/>
<line x1="441.30" y1="574.60" x2="642.40" y2="574.60" stroke="#333" stroke-width="0.8" />
<line x1="459.91" y1="574.60" x2="459.91" y2="577.10" stroke="#333" stroke-width="0.7" />
<text x="459.91" y="583.54" font-family="Liberation Sans" font-size="6.5" fill="#333" text-anchor="middle" font-weight="normal" >−10</text>
<line x1="482.86" y1="574.60" x2="482.86" y2="577.10" stroke="#333" stroke-width="0.7" />
<text x="482.86" y="583.54" font-family="Liberation Sans" font-size="6.5" fill="#333" text-anchor="middle" font-weight="normal" >−5</text>
<line x1="505.80" y1="574.60" x2="505.80" y2="577.10" stroke="#333" stroke-width="0.7" />
<text x="505.80" y="583.54" font-family="Liberation Sans" font-size="6.5" fill="#333" text-anchor="middle" font-weight="normal" >0</text>
<line x1="528.75" y1="574.60" x2="528.75" y2="577.10" stroke="#333" stroke-width="0.7" />
<text x="528.75" y="583.54" font-family="Liberation Sans" font-size="6.5" fill="#333" text-anchor="middle" font-weight="normal" >5</text>
<line x1="551.69" y1="574.60" x2="551.69" y2="577.10" stroke="#333" stroke-width="0.7" />
<text x="551.69" y="583.54" font-family="Liberation Sans" font-size="6.5" fill="#333" text-anchor="middle" font-weight="normal" >10</text>
<line x1="574.63" y1="574.60" x2="574.63" y2="577.10" stroke="#333" stroke-width="0.7" />
<text x="574.63" y="583.54" font-family="Liberation Sans" font-size="6.5" fill="#333" text-anchor="middle" font-weight="normal" >15</text>
<line x1="597.58" y1="574.60" x2="597.58" y2="577.10" stroke="#333" stroke-width="0.7" />
<text x="597.58" y="583.54" font-family="Liberation Sans" font-size="6.5" fill="#333" text-anchor="middle" font-weight="normal" >20</text>
<line x1="620.52" y1="574.60" x2="620.52" y2="577.10" stroke="#333" stroke-width="0.7" />
<text x="620.52" y="583.54" font-family="Liberation Sans" font-size="6.5" fill="#333" text-anchor="middle" font-weight="normal" >25</text>
<text x="541.90" y="590.86" font-family="Liberation Sans" font-size="7.4" fill="#333" text-anchor="middle" font-weight="normal" >SHAP value (impact on model output)</text>
<defs><linearGradient id="cb448" x1="0" x2="0" y1="1" y2="0"><stop offset="0.00" stop-color="rgb(0,139,251)"/><stop offset="0.10" stop-color="rgb(0,124,245)"/><stop offset="0.20" stop-color="rgb(38,108,234)"/><stop offset="0.30" stop-color="rgb(100,89,218)"/><stop offset="0.40" stop-color="rgb(133,66,197)"/><stop offset="0.50" stop-color="rgb(157,34,172)"/><stop offset="0.60" stop-color="rgb(185,0,160)"/><stop offset="0.70" stop-color="rgb(212,0,144)"/><stop offset="0.80" stop-color="rgb(233,0,124)"/><stop offset="0.90" stop-color="rgb(248,0,103)"/><stop offset="1.00" stop-color="rgb(255,0,81)"/></linearGradient></defs>
<rect x="655.00" y="448.50" width="2.2" height="125.00" fill="url(#cb448)"/>
<text x="659.00" y="451.16" font-family="Liberation Sans" font-size="6" fill="#333" text-anchor="start" font-weight="normal" >High</text>
<text x="659.00" y="576.66" font-family="Liberation Sans" font-size="6" fill="#333" text-anchor="start" font-weight="normal" >Low</text>
<text transform="translate(673.40,511.60) rotate(-90)" x="0" y="2.34" font-family="Liberation Sans" font-size="6.5" fill="#333" text-anchor="middle">Feature value</text>
<line x1="73.70" y1="304.80" x2="636.00" y2="304.80" stroke="#999" stroke-width="1.3" />
<line x1="113.30" y1="302.30" x2="113.30" y2="304.80" stroke="#555" stroke-width="0.6" />
<text x="113.30" y="300.80" font-family="Liberation Sans" font-size="5" fill="#333" text-anchor="middle" font-weight="normal" >2</text>
<line x1="180.16" y1="302.30" x2="180.16" y2="304.80" stroke="#555" stroke-width="0.6" />
<text x="180.16" y="300.80" font-family="Liberation Sans" font-size="5" fill="#333" text-anchor="middle" font-weight="normal" >4</text>
<line x1="247.02" y1="302.30" x2="247.02" y2="304.80" stroke="#555" stroke-width="0.6" />
<text x="247.02" y="300.80" font-family="Liberation Sans" font-size="5" fill="#333" text-anchor="middle" font-weight="normal" >6</text>
<line x1="313.88" y1="302.30" x2="313.88" y2="304.80" stroke="#555" stroke-width="0.6" />
<text x="313.88" y="300.80" font-family="Liberation Sans" font-size="5" fill="#333" text-anchor="middle" font-weight="normal" >8</text>
<line x1="380.74" y1="302.30" x2="380.74" y2="304.80" stroke="#555" stroke-width="0.6" />
<text x="380.74" y="300.80" font-family="Liberation Sans" font-size="5" fill="#333" text-anchor="middle" font-weight="normal" >10</text>
<line x1="447.60" y1="302.30" x2="447.60" y2="304.80" stroke="#555" stroke-width="0.6" />
<text x="447.60" y="300.80" font-family="Liberation Sans" font-size="5" fill="#333" text-anchor="middle" font-weight="normal" >12</text>
<line x1="514.46" y1="302.30" x2="514.46" y2="304.80" stroke="#555" stroke-width="0.6" />
<text x="514.46" y="300.80" font-family="Liberation Sans" font-size="5" fill="#333" text-anchor="middle" font-weight="normal" >14</text>
<line x1="581.32" y1="302.30" x2="581.32" y2="304.80" stroke="#555" stroke-width="0.6" />
<text x="581.32" y="300.80" font-family="Liberation Sans" font-size="5" fill="#333" text-anchor="middle" font-weight="normal" >16</text>
<text x="199.00" y="272.79" font-family="Liberation Sans" font-size="7.2" fill="#d6336c" text-anchor="start" font-weight="normal" textLength="20.1" lengthAdjust="spacingAndGlyphs" >higher</text>
<text x="225.30" y="272.79" font-family="Liberation Sans" font-size="7.2" fill="#3b8fd6" text-anchor="start" font-weight="normal" textLength="18.7" lengthAdjust="spacingAndGlyphs" >lower</text>
<path d="M220.90,268.60 H225.00 M223.40,267.30 L225.00,268.60" stroke="#d6336c" stroke-width="0.9" fill="none"/>
<path d="M225.00,271.60 H220.90 M222.50,272.90 L220.90,271.60" stroke="#3b8fd6" stroke-width="0.9" fill="none"/>
<text x="223.28" y="282.27" font-family="Liberation Sans" font-size="6.3" fill="#888" text-anchor="middle" font-weight="normal" >f(x)</text>
<text x="223.28" y="292.08" font-family="Liberation Sans" font-size="8" fill="#000" text-anchor="middle" font-weight="bold" >5.29</text>
<text x="533.53" y="282.02" font-family="Liberation Sans" font-size="7" fill="#8a8a8a" text-anchor="start" font-weight="normal" textLength="32.4" lengthAdjust="spacingAndGlyphs" >base value</text>
<line x1="549.73" y1="291.00" x2="549.73" y2="304.80" stroke="#ddd" stroke-width="0.6" />
<line x1="223.28" y1="295.20" x2="223.28" y2="304.80" stroke="#ddd" stroke-width="0.6" />
<defs><linearGradient id="gr311" x1="0" x2="0" y1="0" y2="1"><stop offset="0" stop-color="#ff0d57" stop-opacity="0.32"/><stop offset="1" stop-color="#ff0d57" stop-opacity="0"/></linearGradient><linearGradient id="gb311" x1="0" x2="0" y1="0" y2="1"><stop offset="0" stop-color="#1e88e5" stop-opacity="0.26"/><stop offset="1" stop-color="#1e88e5" stop-opacity="0"/></linearGradient></defs>
<polygon points="150.40,323.80 223.28,323.80 223.28,347.00 73.70,347.00 73.70,334.00" fill="url(#gr311)" />
<polygon points="223.28,323.80 611.40,323.80 611.40,347.00 223.28,347.00" fill="url(#gb311)" />
<polygon points="147.40,311.20 155.76,311.20 155.76,317.50 155.76,323.80 147.40,323.80 150.40,317.50" fill="#ff0d57" />
<polygon points="155.76,311.20 169.46,311.20 169.46,317.50 169.46,323.80 155.76,323.80 158.76,317.50" fill="#ff0d57" />
<polygon points="169.46,311.20 184.51,311.20 184.51,317.50 184.51,323.80 169.46,323.80 172.46,317.50" fill="#ff0d57" />
<polygon points="184.51,311.20 223.28,311.20 223.28,317.50 223.28,323.80 184.51,323.80 187.51,317.50" fill="#ff0d57" />
<path d="M154.76,311.2 L157.76,317.5 L154.76,323.8" stroke="#fff" stroke-width="1.4" fill="none"/>
<path d="M168.46,311.2 L171.46,317.5 L168.46,323.8" stroke="#fff" stroke-width="1.4" fill="none"/>
<path d="M183.51,311.2 L186.51,317.5 L183.51,323.8" stroke="#fff" stroke-width="1.4" fill="none"/>
<polygon points="223.28,311.20 625.45,311.20 623.65,317.50 625.45,323.80 223.28,323.80" fill="#1e88e5" />
<path d="M580.65,311.2 L577.65,317.5 L580.65,323.8" stroke="#fff" stroke-width="1.4" fill="none"/>
<path d="M612.41,311.2 L609.41,317.5 L612.41,323.8" stroke="#fff" stroke-width="1.4" fill="none"/>
<path d="M618.09,311.2 L615.09,317.5 L618.09,323.8" stroke="#fff" stroke-width="1.4" fill="none"/>
<path d="M621.77,311.2 L618.77,317.5 L621.77,323.8" stroke="#fff" stroke-width="1.4" fill="none"/>
<path d="M625.44,311.2 L622.44,317.5 L625.44,323.8" stroke="#fff" stroke-width="1.4" fill="none"/>
<line x1="150.00" y1="324.00" x2="73.70" y2="334.50" stroke="#e9749b" stroke-width="0.6" />
<line x1="73.70" y1="334.50" x2="73.70" y2="347.00" stroke="#e9749b" stroke-width="0.6" />
<line x1="160.00" y1="324.00" x2="116.50" y2="333.50" stroke="#e9749b" stroke-width="0.6" />
<line x1="116.50" y1="333.50" x2="116.50" y2="347.00" stroke="#e9749b" stroke-width="0.6" />
<line x1="172.00" y1="324.00" x2="152.00" y2="333.50" stroke="#e9749b" stroke-width="0.6" />
<line x1="152.00" y1="333.50" x2="152.00" y2="347.00" stroke="#e9749b" stroke-width="0.6" />
<line x1="184.50" y1="324.00" x2="184.50" y2="347.00" stroke="#e9749b" stroke-width="0.6" />
<line x1="223.50" y1="324.00" x2="223.50" y2="347.00" stroke="#e9749b" stroke-width="0.6" />
<line x1="579.30" y1="324.00" x2="579.30" y2="347.00" stroke="#9ac4ec" stroke-width="0.6" />
<line x1="611.40" y1="324.00" x2="611.40" y2="347.00" stroke="#9ac4ec" stroke-width="0.6" />
<text x="74.60" y="343.85" font-family="Liberation Sans" font-size="6.8" fill="#d6336c" text-anchor="start" font-weight="normal" textLength="39.8" lengthAdjust="spacingAndGlyphs" >OMC = 22.89</text>
<text x="119.50" y="343.85" font-family="Liberation Sans" font-size="6.8" fill="#d6336c" text-anchor="start" font-weight="normal" textLength="29.3" lengthAdjust="spacingAndGlyphs" >PL = 28.5</text>
<text x="153.30" y="343.85" font-family="Liberation Sans" font-size="6.8" fill="#d6336c" text-anchor="start" font-weight="normal" textLength="28.0" lengthAdjust="spacingAndGlyphs" >BA = 6.0</text>
<text x="183.50" y="343.85" font-family="Liberation Sans" font-size="6.8" fill="#d6336c" text-anchor="start" font-weight="normal" textLength="36.4" lengthAdjust="spacingAndGlyphs" >MDD = 1.74</text>
<text x="226.40" y="343.85" font-family="Liberation Sans" font-size="6.8" fill="#3b8fd6" text-anchor="start" font-weight="normal" textLength="30.7" lengthAdjust="spacingAndGlyphs" >OPC = 0.0</text>
<text x="582.80" y="343.85" font-family="Liberation Sans" font-size="6.8" fill="#3b8fd6" text-anchor="start" font-weight="normal" textLength="23.5" lengthAdjust="spacingAndGlyphs" >PI = 9.5</text>
<line x1="76.00" y1="637.20" x2="638.80" y2="637.20" stroke="#999" stroke-width="1.3" />
<line x1="88.60" y1="634.70" x2="88.60" y2="637.20" stroke="#555" stroke-width="0.6" />
<text x="88.60" y="633.10" font-family="Liberation Sans" font-size="5" fill="#333" text-anchor="middle" font-weight="normal" >4</text>
<line x1="174.96" y1="634.70" x2="174.96" y2="637.20" stroke="#555" stroke-width="0.6" />
<text x="174.96" y="633.10" font-family="Liberation Sans" font-size="5" fill="#333" text-anchor="middle" font-weight="normal" >6</text>
<line x1="261.32" y1="634.70" x2="261.32" y2="637.20" stroke="#555" stroke-width="0.6" />
<text x="261.32" y="633.10" font-family="Liberation Sans" font-size="5" fill="#333" text-anchor="middle" font-weight="normal" >8</text>
<line x1="347.68" y1="634.70" x2="347.68" y2="637.20" stroke="#555" stroke-width="0.6" />
<text x="347.68" y="633.10" font-family="Liberation Sans" font-size="5" fill="#333" text-anchor="middle" font-weight="normal" >10</text>
<line x1="434.04" y1="634.70" x2="434.04" y2="637.20" stroke="#555" stroke-width="0.6" />
<text x="434.04" y="633.10" font-family="Liberation Sans" font-size="5" fill="#333" text-anchor="middle" font-weight="normal" >12</text>
<line x1="520.40" y1="634.70" x2="520.40" y2="637.20" stroke="#555" stroke-width="0.6" />
<text x="520.40" y="633.10" font-family="Liberation Sans" font-size="5" fill="#333" text-anchor="middle" font-weight="normal" >14</text>
<line x1="606.76" y1="634.70" x2="606.76" y2="637.20" stroke="#555" stroke-width="0.6" />
<text x="606.76" y="633.10" font-family="Liberation Sans" font-size="5" fill="#333" text-anchor="middle" font-weight="normal" >16</text>
<text x="148.10" y="605.09" font-family="Liberation Sans" font-size="7.2" fill="#d6336c" text-anchor="start" font-weight="normal" textLength="19.9" lengthAdjust="spacingAndGlyphs" >higher</text>
<text x="172.80" y="605.09" font-family="Liberation Sans" font-size="7.2" fill="#3b8fd6" text-anchor="start" font-weight="normal" textLength="18.2" lengthAdjust="spacingAndGlyphs" >lower</text>
<path d="M169.80,600.90 H172.50 M170.90,599.60 L172.50,600.90" stroke="#d6336c" stroke-width="0.9" fill="none"/>
<path d="M172.50,603.90 H169.80 M171.40,605.20 L169.80,603.90" stroke="#3b8fd6" stroke-width="0.9" fill="none"/>
<text x="171.51" y="614.27" font-family="Liberation Sans" font-size="6.3" fill="#888" text-anchor="middle" font-weight="normal" >f(x)</text>
<text x="171.51" y="625.08" font-family="Liberation Sans" font-size="8" fill="#000" text-anchor="middle" font-weight="bold" >5.92</text>
<text x="549.37" y="614.82" font-family="Liberation Sans" font-size="7" fill="#8a8a8a" text-anchor="start" font-weight="normal" textLength="32.4" lengthAdjust="spacingAndGlyphs" >base value</text>
<line x1="565.57" y1="623.80" x2="565.57" y2="637.20" stroke="#ddd" stroke-width="0.6" />
<line x1="171.51" y1="628.20" x2="171.51" y2="637.20" stroke="#ddd" stroke-width="0.6" />
<defs><linearGradient id="gr643" x1="0" x2="0" y1="0" y2="1"><stop offset="0" stop-color="#ff0d57" stop-opacity="0.32"/><stop offset="1" stop-color="#ff0d57" stop-opacity="0"/></linearGradient><linearGradient id="gb643" x1="0" x2="0" y1="0" y2="1"><stop offset="0" stop-color="#1e88e5" stop-opacity="0.26"/><stop offset="1" stop-color="#1e88e5" stop-opacity="0"/></linearGradient></defs>
<polygon points="112.33,656.20 171.51,656.20 171.51,679.50 76.10,679.50 76.10,666.60" fill="url(#gr643)" />
<polygon points="171.51,656.20 613.40,656.20 613.40,679.50 171.51,679.50" fill="url(#gb643)" />
<polygon points="109.33,643.70 121.85,643.70 121.85,649.95 121.85,656.20 109.33,656.20 112.33,649.95" fill="#ff0d57" />
<polygon points="121.85,643.70 171.51,643.70 171.51,649.95 171.51,656.20 121.85,656.20 124.85,649.95" fill="#ff0d57" />
<path d="M120.85,643.7 L123.85,649.95 L120.85,656.2" stroke="#fff" stroke-width="1.4" fill="none"/>
<polygon points="171.51,643.70 627.49,643.70 625.69,649.95 627.49,656.20 171.51,656.20" fill="#1e88e5" />
<path d="M576.24,643.7 L573.24,649.95 L576.24,656.2" stroke="#fff" stroke-width="1.4" fill="none"/>
<path d="M614.24,643.7 L611.24,649.95 L614.24,656.2" stroke="#fff" stroke-width="1.4" fill="none"/>
<path d="M625.90,643.7 L622.90,649.95 L625.90,656.2" stroke="#fff" stroke-width="1.4" fill="none"/>
<path d="M628.05,643.7 L625.05,649.95 L628.05,656.2" stroke="#fff" stroke-width="1.4" fill="none"/>
<line x1="111.20" y1="656.20" x2="76.10" y2="666.60" stroke="#e9749b" stroke-width="0.6" />
<line x1="76.10" y1="666.60" x2="76.10" y2="679.50" stroke="#e9749b" stroke-width="0.6" />
<line x1="122.20" y1="656.20" x2="122.20" y2="679.50" stroke="#e9749b" stroke-width="0.6" />
<line x1="171.30" y1="656.20" x2="171.30" y2="679.50" stroke="#e9749b" stroke-width="0.6" />
<line x1="575.70" y1="656.20" x2="575.70" y2="679.50" stroke="#9ac4ec" stroke-width="0.6" />
<line x1="613.40" y1="656.20" x2="613.40" y2="679.50" stroke="#9ac4ec" stroke-width="0.6" />
<text x="79.00" y="675.75" font-family="Liberation Sans" font-size="6.8" fill="#d6336c" text-anchor="start" font-weight="normal" textLength="39.4" lengthAdjust="spacingAndGlyphs" >OMC = 22.89</text>
<text x="131.50" y="675.75" font-family="Liberation Sans" font-size="6.8" fill="#d6336c" text-anchor="start" font-weight="normal" textLength="37.1" lengthAdjust="spacingAndGlyphs" >MDD = 1.74</text>
<text x="173.90" y="675.75" font-family="Liberation Sans" font-size="6.8" fill="#3b8fd6" text-anchor="start" font-weight="normal" textLength="29.1" lengthAdjust="spacingAndGlyphs" >ToA = 4.0</text>
<text x="577.80" y="675.75" font-family="Liberation Sans" font-size="6.8" fill="#3b8fd6" text-anchor="start" font-weight="normal" textLength="23.7" lengthAdjust="spacingAndGlyphs" >PI = 9.5</text>
</svg></body></html>
